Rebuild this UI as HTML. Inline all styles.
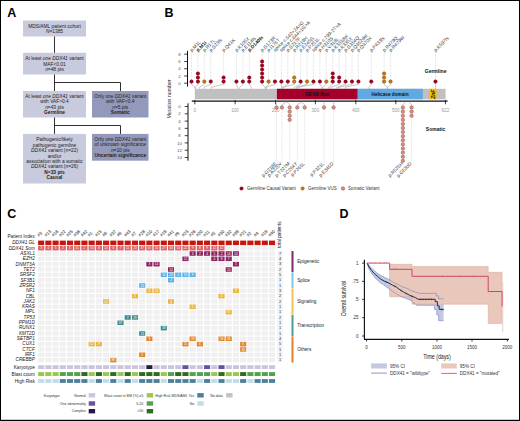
<!DOCTYPE html>
<html><head><meta charset="utf-8"><style>
html,body{margin:0;padding:0;background:#fff;}
svg{display:block;font-family:"Liberation Sans",sans-serif;}
</style></head><body>
<svg width="520" height="421" viewBox="0 0 520 421">
<rect x="0" y="0" width="520" height="421" fill="#fff"/>
<rect x="23" y="20.5" width="63" height="16" fill="#c8cade"/>
<rect x="23" y="52.8" width="63" height="21.7" fill="#c8cade"/>
<rect x="23" y="91" width="63" height="26.5" fill="#c8cade"/>
<rect x="92" y="91" width="56.5" height="26.5" fill="#9399bb"/>
<rect x="23" y="133.9" width="63" height="49.6" fill="#c8cade"/>
<rect x="92" y="133.9" width="56.5" height="26.8" fill="#9399bb"/>
<path d="M54.5 36.5V52.8M54.5 74.5V91M54.5 82.5H120.5V91M54.5 117.5V133.9M54.5 125.5H120.5V133.9" stroke="#1a1a1a" stroke-width="0.9" fill="none"/>
<g fill="#222">
<text x="54.5" y="27.50" font-size="4.85" text-anchor="middle">MDS/AML patient cohort</text>
<text x="54.5" y="32.60" font-size="4.85" text-anchor="middle">N=1385</text>
<text x="54.5" y="60.10" font-size="4.85" text-anchor="middle">At least one <tspan font-style="italic">DDX41</tspan> variant</text>
<text x="54.5" y="65.60" font-size="4.85" text-anchor="middle">MAF&lt;0.01</text>
<text x="54.5" y="70.90" font-size="4.85" text-anchor="middle"><tspan font-style="italic">n</tspan>=48 pts</text>
<text x="54.5" y="97.50" font-size="4.85" text-anchor="middle">At least one <tspan font-style="italic">DDX41</tspan> variant</text>
<text x="54.5" y="103.10" font-size="4.85" text-anchor="middle">with VAF&gt;0.4</text>
<text x="54.5" y="108.70" font-size="4.85" text-anchor="middle"><tspan font-style="italic">n</tspan>=43 pts</text>
<text x="54.5" y="114.10" font-size="4.85" text-anchor="middle" font-weight="bold">Germline</text>
<text x="120.25" y="97.50" font-size="4.85" text-anchor="middle">Only one <tspan font-style="italic">DDX41</tspan> variant</text>
<text x="120.25" y="103.10" font-size="4.85" text-anchor="middle">with VAF&lt;0.4</text>
<text x="120.25" y="108.70" font-size="4.85" text-anchor="middle"><tspan font-style="italic">n</tspan>=5 pts</text>
<text x="120.25" y="114.00" font-size="4.85" text-anchor="middle" font-weight="bold">Somatic</text>
<text x="54.5" y="141.30" font-size="4.85" text-anchor="middle">Pathogenic/likely</text>
<text x="54.5" y="146.70" font-size="4.85" text-anchor="middle">pathogenic germline</text>
<text x="54.5" y="152.10" font-size="4.85" text-anchor="middle"><tspan font-style="italic">DDX41</tspan> variant (n=22)</text>
<text x="54.5" y="157.50" font-size="4.85" text-anchor="middle">and/or</text>
<text x="54.5" y="162.90" font-size="4.85" text-anchor="middle">association with a somatic</text>
<text x="54.5" y="168.30" font-size="4.85" text-anchor="middle"><tspan font-style="italic">DDX41</tspan> variant (n=26)</text>
<text x="54.5" y="173.90" font-size="4.85" text-anchor="middle" font-weight="bold">N=33 pts</text>
<text x="54.5" y="179.30" font-size="4.85" text-anchor="middle" font-weight="bold">Causal</text>
<text x="120.25" y="141.00" font-size="4.85" text-anchor="middle">Only one <tspan font-style="italic">DDX41</tspan> variant</text>
<text x="120.25" y="146.40" font-size="4.85" text-anchor="middle">of unknown significance</text>
<text x="120.25" y="151.70" font-size="4.85" text-anchor="middle"><tspan font-style="italic">n</tspan>=10 pts</text>
<text x="120.25" y="157.00" font-size="4.85" text-anchor="middle" font-weight="bold">Uncertain significance</text>
</g>
<rect x="194.8" y="88.8" width="250.8" height="10.5" fill="#c0c0c0"/>
<rect x="276.9" y="88.8" width="80.8" height="10.5" fill="#a5002b"/>
<rect x="357.7" y="88.8" width="65.1" height="10.5" fill="#61a9e1"/>
<rect x="429.1" y="88.8" width="7.5" height="10.5" fill="#f3c300"/>
<text x="317.3" y="96.0" font-size="4.8" font-weight="bold" text-anchor="middle" fill="#111">DEAD Box</text>
<text x="390" y="96.0" font-size="4.7" font-weight="bold" text-anchor="middle" fill="#111">Helicase domain</text>
<text transform="translate(434.6 94.2) rotate(-90)" font-size="5" font-weight="bold" font-style="italic" text-anchor="middle" fill="#111">ZnF</text>
<path d="M191.8 101.1H447.6" stroke="#111" stroke-width="1.1"/>
<path d="M194.8 99.9V104.3M235.1 99.9V104.3M275.5 99.9V104.3M315.4 99.9V104.3M355.8 99.9V104.3M395.8 99.9V104.3M445.4 99.9V104.3" stroke="#111" stroke-width="0.8"/>
<g font-size="4.6" fill="#999" text-anchor="middle">
<text x="194.8" y="111.8">0</text>
<text x="235.1" y="111.8">100</text>
<text x="275.5" y="111.8">200</text>
<text x="315.4" y="111.8">300</text>
<text x="355.8" y="111.8">400</text>
<text x="395.8" y="111.8">500</text>
<text x="445.4" y="111.8">622</text>
</g>
<path d="M187.5 50.8V86.5" stroke="#111" stroke-width="1"/>
<path d="M184.2 83.2H187.5M184.2 76.0H187.5M184.2 68.7H187.5M184.2 61.5H187.5M184.2 54.2H187.5" stroke="#111" stroke-width="0.8"/>
<g font-size="4.4" fill="#555" text-anchor="middle">
<text x="179.4" y="84.75">0</text>
<text x="179.4" y="77.55">2</text>
<text x="179.4" y="70.25">4</text>
<text x="179.4" y="63.05">6</text>
<text x="179.4" y="55.75">8</text>
</g>
<path d="M188 103.3V160.7" stroke="#111" stroke-width="1"/>
<path d="M184.7 106.50H188M184.7 113.79H188M184.7 121.08H188M184.7 128.37H188M184.7 135.66H188M184.7 142.95H188M184.7 150.24H188M184.7 157.53H188" stroke="#111" stroke-width="0.8"/>
<g font-size="4.4" fill="#555" text-anchor="middle">
<text x="179.4" y="108.05">0</text>
<text x="179.4" y="115.34">2</text>
<text x="179.4" y="122.63">4</text>
<text x="179.4" y="129.92">6</text>
<text x="179.4" y="137.21">8</text>
<text x="179.4" y="144.50">10</text>
<text x="179.4" y="151.79">12</text>
<text x="179.4" y="159.08">14</text>
</g>
<text transform="translate(170.7 99) rotate(-90) scale(0.87 1)" font-size="6" fill="#2a2a2a" text-anchor="middle">Mutation number</text>
<path d="M191.50 51V79.80M197.92 51V71.74M204.34 51V79.80M210.76 51V79.80M223.60 51V75.77M236.44 51V79.80M242.86 51V79.80M249.28 51V75.77M262.12 51V59.65M268.54 51V79.80M274.96 51V79.80M281.38 51V79.80M287.80 51V79.80M294.22 51V75.77M300.64 51V79.80M307.06 51V79.80M313.48 51V79.80M319.90 51V79.80M326.32 51V79.80M332.74 51V71.74M339.16 51V75.77M345.58 51V79.80M352.00 51V79.80M358.42 51V79.80M371.26 51V79.80M384.10 51V71.74M390.52 51V79.80M435.46 51V79.80" stroke="#b5b5b5" stroke-width="0.45" stroke-dasharray="0.7 0.7" fill="none"/>
<path d="M191.50 83.3V84.3L195.20 87.4V88.8M197.92 83.3V84.3L195.20 87.4V88.8M204.34 83.3V84.3L199.40 87.4V88.8M210.76 83.3V84.3L204.00 87.4V88.8M223.60 83.3V84.3L211.00 87.4V88.8M236.44 83.3V84.3L237.70 87.4V88.8M242.86 83.3V84.3L239.70 87.4V88.8M249.28 83.3V84.3L251.20 87.4V88.8M262.12 83.3V84.3L265.30 87.4V88.8M268.54 83.3V84.3L265.60 87.4V88.8M274.96 83.3V84.3L266.10 87.4V88.8M281.38 83.3V84.3L281.50 87.4V88.8M287.80 83.3V84.3L282.20 87.4V88.8M294.22 83.3V84.3L283.30 87.4V88.8M300.64 83.3V84.3L294.00 87.4V88.8M307.06 83.3V84.3L296.50 87.4V88.8M313.48 83.3V84.3L298.00 87.4V88.8M319.90 83.3V84.3L322.10 87.4V88.8M326.32 83.3V84.3L322.60 87.4V88.8M332.74 83.3V84.3L328.50 87.4V88.8M339.16 83.3V84.3L330.50 87.4V88.8M345.58 83.3V84.3L336.50 87.4V88.8M352.00 83.3V84.3L338.50 87.4V88.8M358.42 83.3V84.3L345.00 87.4V88.8M371.26 83.3V84.3L369.00 87.4V88.8M384.10 83.3V84.3L387.30 87.4V88.8M390.52 83.3V84.3L387.30 87.4V88.8M435.46 83.3V84.3L435.50 87.4V88.8" stroke="#8f8f8f" stroke-width="0.5" fill="none"/>
<g font-size="4.85" fill="#404040"><text transform="translate(191.70 52.0) rotate(-45)">p.M1L</text><text transform="translate(198.12 52.0) rotate(-45)" font-weight="bold" fill="#111">p.M1I</text><text transform="translate(204.54 52.0) rotate(-45)">p.R17L</text><text transform="translate(210.96 52.0) rotate(-45)">p.S23fs</text><text transform="translate(223.80 52.0) rotate(-45)">p.Q41K</text><text transform="translate(236.64 52.0) rotate(-45)">p.K106X</text><text transform="translate(243.06 52.0) rotate(-45)">p.E114fs</text><text transform="translate(249.48 52.0) rotate(-45)" font-weight="bold" fill="#111">p.D140fs</text><text transform="translate(262.32 52.0) rotate(-45)">p.G173R</text><text transform="translate(268.74 52.0) rotate(-45)">p.I176T</text><text transform="translate(275.16 52.0) rotate(-45)">splice c.542+2A&gt;G</text><text transform="translate(281.58 52.0) rotate(-45)">splice c.644+1G&gt;A</text><text transform="translate(288.00 52.0) rotate(-45)">p.S217F</text><text transform="translate(294.42 52.0) rotate(-45)">p.R219H</text><text transform="translate(300.84 52.0) rotate(-45)">p.E245G</text><text transform="translate(307.26 52.0) rotate(-45)">p.P251L</text><text transform="translate(313.68 52.0) rotate(-45)">splice c.799-2T&gt;A</text><text transform="translate(320.10 52.0) rotate(-45)">p.H310S</text><text transform="translate(326.52 52.0) rotate(-45)">p.V318L</text><text transform="translate(332.94 52.0) rotate(-45)">p.K331del</text><text transform="translate(339.36 52.0) rotate(-45)">p.K335X</text><text transform="translate(345.78 52.0) rotate(-45)">p.G354Q</text><text transform="translate(352.20 52.0) rotate(-45)">p.Q352del</text><text transform="translate(358.62 52.0) rotate(-45)">p.Q370X</text><text transform="translate(371.46 52.0) rotate(-45)">p.P433fs</text><text transform="translate(384.30 52.0) rotate(-45)">p.R479Q</text><text transform="translate(390.72 52.0) rotate(-45)">p.R479W</text><text transform="translate(435.66 52.0) rotate(-45)">p.K597fs</text></g>
<circle cx="191.50" cy="81.60" r="1.75" fill="#aa001f" stroke="#5e0012" stroke-width="0.45"/><circle cx="197.92" cy="81.60" r="1.75" fill="#aa001f" stroke="#5e0012" stroke-width="0.45"/><circle cx="197.92" cy="77.57" r="1.75" fill="#aa001f" stroke="#5e0012" stroke-width="0.45"/><circle cx="197.92" cy="73.54" r="1.75" fill="#aa001f" stroke="#5e0012" stroke-width="0.45"/><circle cx="204.34" cy="81.60" r="1.75" fill="#c47a14" stroke="#74470a" stroke-width="0.45"/><circle cx="210.76" cy="81.60" r="1.75" fill="#aa001f" stroke="#5e0012" stroke-width="0.45"/><circle cx="223.60" cy="81.60" r="1.75" fill="#aa001f" stroke="#5e0012" stroke-width="0.45"/><circle cx="223.60" cy="77.57" r="1.75" fill="#aa001f" stroke="#5e0012" stroke-width="0.45"/><circle cx="236.44" cy="81.60" r="1.75" fill="#aa001f" stroke="#5e0012" stroke-width="0.45"/><circle cx="242.86" cy="81.60" r="1.75" fill="#aa001f" stroke="#5e0012" stroke-width="0.45"/><circle cx="249.28" cy="81.60" r="1.75" fill="#aa001f" stroke="#5e0012" stroke-width="0.45"/><circle cx="249.28" cy="77.57" r="1.75" fill="#aa001f" stroke="#5e0012" stroke-width="0.45"/><circle cx="262.12" cy="81.60" r="1.75" fill="#aa001f" stroke="#5e0012" stroke-width="0.45"/><circle cx="262.12" cy="77.57" r="1.75" fill="#aa001f" stroke="#5e0012" stroke-width="0.45"/><circle cx="262.12" cy="73.54" r="1.75" fill="#aa001f" stroke="#5e0012" stroke-width="0.45"/><circle cx="262.12" cy="69.51" r="1.75" fill="#aa001f" stroke="#5e0012" stroke-width="0.45"/><circle cx="262.12" cy="65.48" r="1.75" fill="#aa001f" stroke="#5e0012" stroke-width="0.45"/><circle cx="262.12" cy="61.45" r="1.75" fill="#aa001f" stroke="#5e0012" stroke-width="0.45"/><circle cx="268.54" cy="81.60" r="1.75" fill="#c47a14" stroke="#74470a" stroke-width="0.45"/><circle cx="274.96" cy="81.60" r="1.75" fill="#aa001f" stroke="#5e0012" stroke-width="0.45"/><circle cx="281.38" cy="81.60" r="1.75" fill="#aa001f" stroke="#5e0012" stroke-width="0.45"/><circle cx="287.80" cy="81.60" r="1.75" fill="#aa001f" stroke="#5e0012" stroke-width="0.45"/><circle cx="294.22" cy="81.60" r="1.75" fill="#c47a14" stroke="#74470a" stroke-width="0.45"/><circle cx="294.22" cy="77.57" r="1.75" fill="#c47a14" stroke="#74470a" stroke-width="0.45"/><circle cx="300.64" cy="81.60" r="1.75" fill="#aa001f" stroke="#5e0012" stroke-width="0.45"/><circle cx="307.06" cy="81.60" r="1.75" fill="#c47a14" stroke="#74470a" stroke-width="0.45"/><circle cx="313.48" cy="81.60" r="1.75" fill="#aa001f" stroke="#5e0012" stroke-width="0.45"/><circle cx="319.90" cy="81.60" r="1.75" fill="#aa001f" stroke="#5e0012" stroke-width="0.45"/><circle cx="326.32" cy="81.60" r="1.75" fill="#c47a14" stroke="#74470a" stroke-width="0.45"/><circle cx="332.74" cy="81.60" r="1.75" fill="#aa001f" stroke="#5e0012" stroke-width="0.45"/><circle cx="332.74" cy="77.57" r="1.75" fill="#aa001f" stroke="#5e0012" stroke-width="0.45"/><circle cx="332.74" cy="73.54" r="1.75" fill="#aa001f" stroke="#5e0012" stroke-width="0.45"/><circle cx="339.16" cy="81.60" r="1.75" fill="#aa001f" stroke="#5e0012" stroke-width="0.45"/><circle cx="339.16" cy="77.57" r="1.75" fill="#aa001f" stroke="#5e0012" stroke-width="0.45"/><circle cx="345.58" cy="81.60" r="1.75" fill="#aa001f" stroke="#5e0012" stroke-width="0.45"/><circle cx="352.00" cy="81.60" r="1.75" fill="#aa001f" stroke="#5e0012" stroke-width="0.45"/><circle cx="358.42" cy="81.60" r="1.75" fill="#aa001f" stroke="#5e0012" stroke-width="0.45"/><circle cx="371.26" cy="81.60" r="1.75" fill="#aa001f" stroke="#5e0012" stroke-width="0.45"/><circle cx="384.10" cy="81.60" r="1.75" fill="#c47a14" stroke="#74470a" stroke-width="0.45"/><circle cx="384.10" cy="77.57" r="1.75" fill="#c47a14" stroke="#74470a" stroke-width="0.45"/><circle cx="384.10" cy="73.54" r="1.75" fill="#c47a14" stroke="#74470a" stroke-width="0.45"/><circle cx="390.52" cy="81.60" r="1.75" fill="#c47a14" stroke="#74470a" stroke-width="0.45"/><circle cx="435.46" cy="81.60" r="1.75" fill="#aa001f" stroke="#5e0012" stroke-width="0.45"/>
<path d="M276.50 109.30V162.5M281.90 109.30V162.5M289.70 121.60V162.5M297.30 109.30V162.5M304.70 109.30V162.5M324.00 109.30V162.5M333.60 109.30V162.5M402.90 162.60V162.5M411.60 117.50V162.5" stroke="#b5b5b5" stroke-width="0.45" stroke-dasharray="0.7 0.7" fill="none"/>
<path d="M276.50 105.8V104.8L275.80 102.6V101.6M281.90 105.8V104.8L285.40 102.6V101.6M289.70 105.8V104.8L287.30 102.6V101.6M297.30 105.8V104.8L300.80 102.6V101.6M304.70 105.8V104.8L302.00 102.6V101.6M324.00 105.8V104.8L324.00 102.6V101.6M333.60 105.8V104.8L333.60 102.6V101.6M402.90 105.8V104.8L404.80 102.6V101.6M411.60 105.8V104.8L409.30 102.6V101.6" stroke="#8f8f8f" stroke-width="0.5" fill="none"/>
<g font-size="4.85" fill="#404040" text-anchor="end"><text transform="translate(277.00 164.0) rotate(-45)">p.G218E</text><text transform="translate(282.40 164.0) rotate(-45)">p.A225V</text><text transform="translate(290.20 164.0) rotate(-45)">p.T227M</text><text transform="translate(297.80 164.0) rotate(-45)">p.C264Y</text><text transform="translate(305.20 164.0) rotate(-45)">p.P265L</text><text transform="translate(324.50 164.0) rotate(-45)">p.P321L</text><text transform="translate(334.10 164.0) rotate(-45)">p.E345D</text><text transform="translate(403.40 164.0) rotate(-45)">p.R525H</text><text transform="translate(412.10 164.0) rotate(-45)">p.G530D</text></g>
<circle cx="276.50" cy="107.50" r="1.75" fill="#e38a79" stroke="#7f5a52" stroke-width="0.5"/><circle cx="281.90" cy="107.50" r="1.75" fill="#e38a79" stroke="#7f5a52" stroke-width="0.5"/><circle cx="289.70" cy="107.50" r="1.75" fill="#e38a79" stroke="#7f5a52" stroke-width="0.5"/><circle cx="289.70" cy="111.60" r="1.75" fill="#e38a79" stroke="#7f5a52" stroke-width="0.5"/><circle cx="289.70" cy="115.70" r="1.75" fill="#e38a79" stroke="#7f5a52" stroke-width="0.5"/><circle cx="289.70" cy="119.80" r="1.75" fill="#e38a79" stroke="#7f5a52" stroke-width="0.5"/><circle cx="297.30" cy="107.50" r="1.75" fill="#e38a79" stroke="#7f5a52" stroke-width="0.5"/><circle cx="304.70" cy="107.50" r="1.75" fill="#e38a79" stroke="#7f5a52" stroke-width="0.5"/><circle cx="324.00" cy="107.50" r="1.75" fill="#e38a79" stroke="#7f5a52" stroke-width="0.5"/><circle cx="333.60" cy="107.50" r="1.75" fill="#e38a79" stroke="#7f5a52" stroke-width="0.5"/><circle cx="402.90" cy="107.50" r="1.75" fill="#e38a79" stroke="#7f5a52" stroke-width="0.5"/><circle cx="402.90" cy="111.60" r="1.75" fill="#e38a79" stroke="#7f5a52" stroke-width="0.5"/><circle cx="402.90" cy="115.70" r="1.75" fill="#e38a79" stroke="#7f5a52" stroke-width="0.5"/><circle cx="402.90" cy="119.80" r="1.75" fill="#e38a79" stroke="#7f5a52" stroke-width="0.5"/><circle cx="402.90" cy="123.90" r="1.75" fill="#e38a79" stroke="#7f5a52" stroke-width="0.5"/><circle cx="402.90" cy="128.00" r="1.75" fill="#e38a79" stroke="#7f5a52" stroke-width="0.5"/><circle cx="402.90" cy="132.10" r="1.75" fill="#e38a79" stroke="#7f5a52" stroke-width="0.5"/><circle cx="402.90" cy="136.20" r="1.75" fill="#e38a79" stroke="#7f5a52" stroke-width="0.5"/><circle cx="402.90" cy="140.30" r="1.75" fill="#e38a79" stroke="#7f5a52" stroke-width="0.5"/><circle cx="402.90" cy="144.40" r="1.75" fill="#e38a79" stroke="#7f5a52" stroke-width="0.5"/><circle cx="402.90" cy="148.50" r="1.75" fill="#e38a79" stroke="#7f5a52" stroke-width="0.5"/><circle cx="402.90" cy="152.60" r="1.75" fill="#e38a79" stroke="#7f5a52" stroke-width="0.5"/><circle cx="402.90" cy="156.70" r="1.75" fill="#e38a79" stroke="#7f5a52" stroke-width="0.5"/><circle cx="402.90" cy="160.80" r="1.75" fill="#e38a79" stroke="#7f5a52" stroke-width="0.5"/><circle cx="411.60" cy="107.50" r="1.75" fill="#e38a79" stroke="#7f5a52" stroke-width="0.5"/><circle cx="411.60" cy="111.60" r="1.75" fill="#e38a79" stroke="#7f5a52" stroke-width="0.5"/><circle cx="411.60" cy="115.70" r="1.75" fill="#e38a79" stroke="#7f5a52" stroke-width="0.5"/>
<text x="435.6" y="72.6" font-size="5" font-weight="bold" text-anchor="middle" fill="#111">Germline</text>
<text x="435.6" y="130.7" font-size="5" font-weight="bold" text-anchor="middle" fill="#111">Somatic</text>
<circle cx="241.5" cy="188.5" r="1.75" fill="#aa001f" stroke="#5e0012" stroke-width="0.35"/>
<circle cx="302.6" cy="188.5" r="1.75" fill="#c47a14" stroke="#74470a" stroke-width="0.35"/>
<circle cx="343" cy="188.5" r="1.75" fill="#e38a79" stroke="#7f5a52" stroke-width="0.5"/>
<g font-size="4.5" fill="#333">
<text x="247" y="190.1">Germline Causal Variant</text>
<text x="308" y="190.1">Germline VUS</text>
<text x="348" y="190.1">Somatic Variant</text>
</g><g fill="#f0f0f0"><rect x="38.10" y="251.26" width="6.1" height="4.5"/><rect x="45.31" y="251.26" width="6.1" height="4.5"/><rect x="52.53" y="251.26" width="6.1" height="4.5"/><rect x="59.75" y="251.26" width="6.1" height="4.5"/><rect x="66.96" y="251.26" width="6.1" height="4.5"/><rect x="74.18" y="251.26" width="6.1" height="4.5"/><rect x="81.39" y="251.26" width="6.1" height="4.5"/><rect x="88.60" y="251.26" width="6.1" height="4.5"/><rect x="95.82" y="251.26" width="6.1" height="4.5"/><rect x="103.03" y="251.26" width="6.1" height="4.5"/><rect x="110.25" y="251.26" width="6.1" height="4.5"/><rect x="117.47" y="251.26" width="6.1" height="4.5"/><rect x="124.68" y="251.26" width="6.1" height="4.5"/><rect x="131.90" y="251.26" width="6.1" height="4.5"/><rect x="139.11" y="251.26" width="6.1" height="4.5"/><rect x="146.32" y="251.26" width="6.1" height="4.5"/><rect x="153.54" y="251.26" width="6.1" height="4.5"/><rect x="160.75" y="251.26" width="6.1" height="4.5"/><rect x="167.97" y="251.26" width="6.1" height="4.5"/><rect x="175.19" y="251.26" width="6.1" height="4.5"/><rect x="182.40" y="251.26" width="6.1" height="4.5"/><rect x="189.61" y="251.26" width="6.1" height="4.5"/><rect x="196.83" y="251.26" width="6.1" height="4.5"/><rect x="204.04" y="251.26" width="6.1" height="4.5"/><rect x="211.26" y="251.26" width="6.1" height="4.5"/><rect x="218.47" y="251.26" width="6.1" height="4.5"/><rect x="225.69" y="251.26" width="6.1" height="4.5"/><rect x="232.91" y="251.26" width="6.1" height="4.5"/><rect x="240.12" y="251.26" width="6.1" height="4.5"/><rect x="247.33" y="251.26" width="6.1" height="4.5"/><rect x="254.55" y="251.26" width="6.1" height="4.5"/><rect x="261.76" y="251.26" width="6.1" height="4.5"/><rect x="268.98" y="251.26" width="6.1" height="4.5"/><rect x="38.10" y="256.59" width="6.1" height="4.5"/><rect x="45.31" y="256.59" width="6.1" height="4.5"/><rect x="52.53" y="256.59" width="6.1" height="4.5"/><rect x="59.75" y="256.59" width="6.1" height="4.5"/><rect x="66.96" y="256.59" width="6.1" height="4.5"/><rect x="74.18" y="256.59" width="6.1" height="4.5"/><rect x="81.39" y="256.59" width="6.1" height="4.5"/><rect x="88.60" y="256.59" width="6.1" height="4.5"/><rect x="95.82" y="256.59" width="6.1" height="4.5"/><rect x="103.03" y="256.59" width="6.1" height="4.5"/><rect x="110.25" y="256.59" width="6.1" height="4.5"/><rect x="117.47" y="256.59" width="6.1" height="4.5"/><rect x="124.68" y="256.59" width="6.1" height="4.5"/><rect x="131.90" y="256.59" width="6.1" height="4.5"/><rect x="139.11" y="256.59" width="6.1" height="4.5"/><rect x="146.32" y="256.59" width="6.1" height="4.5"/><rect x="153.54" y="256.59" width="6.1" height="4.5"/><rect x="160.75" y="256.59" width="6.1" height="4.5"/><rect x="167.97" y="256.59" width="6.1" height="4.5"/><rect x="175.19" y="256.59" width="6.1" height="4.5"/><rect x="182.40" y="256.59" width="6.1" height="4.5"/><rect x="189.61" y="256.59" width="6.1" height="4.5"/><rect x="196.83" y="256.59" width="6.1" height="4.5"/><rect x="204.04" y="256.59" width="6.1" height="4.5"/><rect x="211.26" y="256.59" width="6.1" height="4.5"/><rect x="218.47" y="256.59" width="6.1" height="4.5"/><rect x="225.69" y="256.59" width="6.1" height="4.5"/><rect x="232.91" y="256.59" width="6.1" height="4.5"/><rect x="240.12" y="256.59" width="6.1" height="4.5"/><rect x="247.33" y="256.59" width="6.1" height="4.5"/><rect x="254.55" y="256.59" width="6.1" height="4.5"/><rect x="261.76" y="256.59" width="6.1" height="4.5"/><rect x="268.98" y="256.59" width="6.1" height="4.5"/><rect x="38.10" y="261.92" width="6.1" height="4.5"/><rect x="45.31" y="261.92" width="6.1" height="4.5"/><rect x="52.53" y="261.92" width="6.1" height="4.5"/><rect x="59.75" y="261.92" width="6.1" height="4.5"/><rect x="66.96" y="261.92" width="6.1" height="4.5"/><rect x="74.18" y="261.92" width="6.1" height="4.5"/><rect x="81.39" y="261.92" width="6.1" height="4.5"/><rect x="88.60" y="261.92" width="6.1" height="4.5"/><rect x="95.82" y="261.92" width="6.1" height="4.5"/><rect x="103.03" y="261.92" width="6.1" height="4.5"/><rect x="110.25" y="261.92" width="6.1" height="4.5"/><rect x="117.47" y="261.92" width="6.1" height="4.5"/><rect x="124.68" y="261.92" width="6.1" height="4.5"/><rect x="131.90" y="261.92" width="6.1" height="4.5"/><rect x="139.11" y="261.92" width="6.1" height="4.5"/><rect x="146.32" y="261.92" width="6.1" height="4.5"/><rect x="153.54" y="261.92" width="6.1" height="4.5"/><rect x="160.75" y="261.92" width="6.1" height="4.5"/><rect x="167.97" y="261.92" width="6.1" height="4.5"/><rect x="175.19" y="261.92" width="6.1" height="4.5"/><rect x="182.40" y="261.92" width="6.1" height="4.5"/><rect x="189.61" y="261.92" width="6.1" height="4.5"/><rect x="196.83" y="261.92" width="6.1" height="4.5"/><rect x="204.04" y="261.92" width="6.1" height="4.5"/><rect x="211.26" y="261.92" width="6.1" height="4.5"/><rect x="218.47" y="261.92" width="6.1" height="4.5"/><rect x="225.69" y="261.92" width="6.1" height="4.5"/><rect x="232.91" y="261.92" width="6.1" height="4.5"/><rect x="240.12" y="261.92" width="6.1" height="4.5"/><rect x="247.33" y="261.92" width="6.1" height="4.5"/><rect x="254.55" y="261.92" width="6.1" height="4.5"/><rect x="261.76" y="261.92" width="6.1" height="4.5"/><rect x="268.98" y="261.92" width="6.1" height="4.5"/><rect x="38.10" y="267.25" width="6.1" height="4.5"/><rect x="45.31" y="267.25" width="6.1" height="4.5"/><rect x="52.53" y="267.25" width="6.1" height="4.5"/><rect x="59.75" y="267.25" width="6.1" height="4.5"/><rect x="66.96" y="267.25" width="6.1" height="4.5"/><rect x="74.18" y="267.25" width="6.1" height="4.5"/><rect x="81.39" y="267.25" width="6.1" height="4.5"/><rect x="88.60" y="267.25" width="6.1" height="4.5"/><rect x="95.82" y="267.25" width="6.1" height="4.5"/><rect x="103.03" y="267.25" width="6.1" height="4.5"/><rect x="110.25" y="267.25" width="6.1" height="4.5"/><rect x="117.47" y="267.25" width="6.1" height="4.5"/><rect x="124.68" y="267.25" width="6.1" height="4.5"/><rect x="131.90" y="267.25" width="6.1" height="4.5"/><rect x="139.11" y="267.25" width="6.1" height="4.5"/><rect x="146.32" y="267.25" width="6.1" height="4.5"/><rect x="153.54" y="267.25" width="6.1" height="4.5"/><rect x="160.75" y="267.25" width="6.1" height="4.5"/><rect x="167.97" y="267.25" width="6.1" height="4.5"/><rect x="175.19" y="267.25" width="6.1" height="4.5"/><rect x="182.40" y="267.25" width="6.1" height="4.5"/><rect x="189.61" y="267.25" width="6.1" height="4.5"/><rect x="196.83" y="267.25" width="6.1" height="4.5"/><rect x="204.04" y="267.25" width="6.1" height="4.5"/><rect x="211.26" y="267.25" width="6.1" height="4.5"/><rect x="218.47" y="267.25" width="6.1" height="4.5"/><rect x="225.69" y="267.25" width="6.1" height="4.5"/><rect x="232.91" y="267.25" width="6.1" height="4.5"/><rect x="240.12" y="267.25" width="6.1" height="4.5"/><rect x="247.33" y="267.25" width="6.1" height="4.5"/><rect x="254.55" y="267.25" width="6.1" height="4.5"/><rect x="261.76" y="267.25" width="6.1" height="4.5"/><rect x="268.98" y="267.25" width="6.1" height="4.5"/><rect x="38.10" y="272.58" width="6.1" height="4.5"/><rect x="45.31" y="272.58" width="6.1" height="4.5"/><rect x="52.53" y="272.58" width="6.1" height="4.5"/><rect x="59.75" y="272.58" width="6.1" height="4.5"/><rect x="66.96" y="272.58" width="6.1" height="4.5"/><rect x="74.18" y="272.58" width="6.1" height="4.5"/><rect x="81.39" y="272.58" width="6.1" height="4.5"/><rect x="88.60" y="272.58" width="6.1" height="4.5"/><rect x="95.82" y="272.58" width="6.1" height="4.5"/><rect x="103.03" y="272.58" width="6.1" height="4.5"/><rect x="110.25" y="272.58" width="6.1" height="4.5"/><rect x="117.47" y="272.58" width="6.1" height="4.5"/><rect x="124.68" y="272.58" width="6.1" height="4.5"/><rect x="131.90" y="272.58" width="6.1" height="4.5"/><rect x="139.11" y="272.58" width="6.1" height="4.5"/><rect x="146.32" y="272.58" width="6.1" height="4.5"/><rect x="153.54" y="272.58" width="6.1" height="4.5"/><rect x="160.75" y="272.58" width="6.1" height="4.5"/><rect x="167.97" y="272.58" width="6.1" height="4.5"/><rect x="175.19" y="272.58" width="6.1" height="4.5"/><rect x="182.40" y="272.58" width="6.1" height="4.5"/><rect x="189.61" y="272.58" width="6.1" height="4.5"/><rect x="196.83" y="272.58" width="6.1" height="4.5"/><rect x="204.04" y="272.58" width="6.1" height="4.5"/><rect x="211.26" y="272.58" width="6.1" height="4.5"/><rect x="218.47" y="272.58" width="6.1" height="4.5"/><rect x="225.69" y="272.58" width="6.1" height="4.5"/><rect x="232.91" y="272.58" width="6.1" height="4.5"/><rect x="240.12" y="272.58" width="6.1" height="4.5"/><rect x="247.33" y="272.58" width="6.1" height="4.5"/><rect x="254.55" y="272.58" width="6.1" height="4.5"/><rect x="261.76" y="272.58" width="6.1" height="4.5"/><rect x="268.98" y="272.58" width="6.1" height="4.5"/><rect x="38.10" y="277.91" width="6.1" height="4.5"/><rect x="45.31" y="277.91" width="6.1" height="4.5"/><rect x="52.53" y="277.91" width="6.1" height="4.5"/><rect x="59.75" y="277.91" width="6.1" height="4.5"/><rect x="66.96" y="277.91" width="6.1" height="4.5"/><rect x="74.18" y="277.91" width="6.1" height="4.5"/><rect x="81.39" y="277.91" width="6.1" height="4.5"/><rect x="88.60" y="277.91" width="6.1" height="4.5"/><rect x="95.82" y="277.91" width="6.1" height="4.5"/><rect x="103.03" y="277.91" width="6.1" height="4.5"/><rect x="110.25" y="277.91" width="6.1" height="4.5"/><rect x="117.47" y="277.91" width="6.1" height="4.5"/><rect x="124.68" y="277.91" width="6.1" height="4.5"/><rect x="131.90" y="277.91" width="6.1" height="4.5"/><rect x="139.11" y="277.91" width="6.1" height="4.5"/><rect x="146.32" y="277.91" width="6.1" height="4.5"/><rect x="153.54" y="277.91" width="6.1" height="4.5"/><rect x="160.75" y="277.91" width="6.1" height="4.5"/><rect x="167.97" y="277.91" width="6.1" height="4.5"/><rect x="175.19" y="277.91" width="6.1" height="4.5"/><rect x="182.40" y="277.91" width="6.1" height="4.5"/><rect x="189.61" y="277.91" width="6.1" height="4.5"/><rect x="196.83" y="277.91" width="6.1" height="4.5"/><rect x="204.04" y="277.91" width="6.1" height="4.5"/><rect x="211.26" y="277.91" width="6.1" height="4.5"/><rect x="218.47" y="277.91" width="6.1" height="4.5"/><rect x="225.69" y="277.91" width="6.1" height="4.5"/><rect x="232.91" y="277.91" width="6.1" height="4.5"/><rect x="240.12" y="277.91" width="6.1" height="4.5"/><rect x="247.33" y="277.91" width="6.1" height="4.5"/><rect x="254.55" y="277.91" width="6.1" height="4.5"/><rect x="261.76" y="277.91" width="6.1" height="4.5"/><rect x="268.98" y="277.91" width="6.1" height="4.5"/><rect x="38.10" y="283.24" width="6.1" height="4.5"/><rect x="45.31" y="283.24" width="6.1" height="4.5"/><rect x="52.53" y="283.24" width="6.1" height="4.5"/><rect x="59.75" y="283.24" width="6.1" height="4.5"/><rect x="66.96" y="283.24" width="6.1" height="4.5"/><rect x="74.18" y="283.24" width="6.1" height="4.5"/><rect x="81.39" y="283.24" width="6.1" height="4.5"/><rect x="88.60" y="283.24" width="6.1" height="4.5"/><rect x="95.82" y="283.24" width="6.1" height="4.5"/><rect x="103.03" y="283.24" width="6.1" height="4.5"/><rect x="110.25" y="283.24" width="6.1" height="4.5"/><rect x="117.47" y="283.24" width="6.1" height="4.5"/><rect x="124.68" y="283.24" width="6.1" height="4.5"/><rect x="131.90" y="283.24" width="6.1" height="4.5"/><rect x="139.11" y="283.24" width="6.1" height="4.5"/><rect x="146.32" y="283.24" width="6.1" height="4.5"/><rect x="153.54" y="283.24" width="6.1" height="4.5"/><rect x="160.75" y="283.24" width="6.1" height="4.5"/><rect x="167.97" y="283.24" width="6.1" height="4.5"/><rect x="175.19" y="283.24" width="6.1" height="4.5"/><rect x="182.40" y="283.24" width="6.1" height="4.5"/><rect x="189.61" y="283.24" width="6.1" height="4.5"/><rect x="196.83" y="283.24" width="6.1" height="4.5"/><rect x="204.04" y="283.24" width="6.1" height="4.5"/><rect x="211.26" y="283.24" width="6.1" height="4.5"/><rect x="218.47" y="283.24" width="6.1" height="4.5"/><rect x="225.69" y="283.24" width="6.1" height="4.5"/><rect x="232.91" y="283.24" width="6.1" height="4.5"/><rect x="240.12" y="283.24" width="6.1" height="4.5"/><rect x="247.33" y="283.24" width="6.1" height="4.5"/><rect x="254.55" y="283.24" width="6.1" height="4.5"/><rect x="261.76" y="283.24" width="6.1" height="4.5"/><rect x="268.98" y="283.24" width="6.1" height="4.5"/><rect x="38.10" y="288.57" width="6.1" height="4.5"/><rect x="45.31" y="288.57" width="6.1" height="4.5"/><rect x="52.53" y="288.57" width="6.1" height="4.5"/><rect x="59.75" y="288.57" width="6.1" height="4.5"/><rect x="66.96" y="288.57" width="6.1" height="4.5"/><rect x="74.18" y="288.57" width="6.1" height="4.5"/><rect x="81.39" y="288.57" width="6.1" height="4.5"/><rect x="88.60" y="288.57" width="6.1" height="4.5"/><rect x="95.82" y="288.57" width="6.1" height="4.5"/><rect x="103.03" y="288.57" width="6.1" height="4.5"/><rect x="110.25" y="288.57" width="6.1" height="4.5"/><rect x="117.47" y="288.57" width="6.1" height="4.5"/><rect x="124.68" y="288.57" width="6.1" height="4.5"/><rect x="131.90" y="288.57" width="6.1" height="4.5"/><rect x="139.11" y="288.57" width="6.1" height="4.5"/><rect x="146.32" y="288.57" width="6.1" height="4.5"/><rect x="153.54" y="288.57" width="6.1" height="4.5"/><rect x="160.75" y="288.57" width="6.1" height="4.5"/><rect x="167.97" y="288.57" width="6.1" height="4.5"/><rect x="175.19" y="288.57" width="6.1" height="4.5"/><rect x="182.40" y="288.57" width="6.1" height="4.5"/><rect x="189.61" y="288.57" width="6.1" height="4.5"/><rect x="196.83" y="288.57" width="6.1" height="4.5"/><rect x="204.04" y="288.57" width="6.1" height="4.5"/><rect x="211.26" y="288.57" width="6.1" height="4.5"/><rect x="218.47" y="288.57" width="6.1" height="4.5"/><rect x="225.69" y="288.57" width="6.1" height="4.5"/><rect x="232.91" y="288.57" width="6.1" height="4.5"/><rect x="240.12" y="288.57" width="6.1" height="4.5"/><rect x="247.33" y="288.57" width="6.1" height="4.5"/><rect x="254.55" y="288.57" width="6.1" height="4.5"/><rect x="261.76" y="288.57" width="6.1" height="4.5"/><rect x="268.98" y="288.57" width="6.1" height="4.5"/><rect x="38.10" y="293.90" width="6.1" height="4.5"/><rect x="45.31" y="293.90" width="6.1" height="4.5"/><rect x="52.53" y="293.90" width="6.1" height="4.5"/><rect x="59.75" y="293.90" width="6.1" height="4.5"/><rect x="66.96" y="293.90" width="6.1" height="4.5"/><rect x="74.18" y="293.90" width="6.1" height="4.5"/><rect x="81.39" y="293.90" width="6.1" height="4.5"/><rect x="88.60" y="293.90" width="6.1" height="4.5"/><rect x="95.82" y="293.90" width="6.1" height="4.5"/><rect x="103.03" y="293.90" width="6.1" height="4.5"/><rect x="110.25" y="293.90" width="6.1" height="4.5"/><rect x="117.47" y="293.90" width="6.1" height="4.5"/><rect x="124.68" y="293.90" width="6.1" height="4.5"/><rect x="131.90" y="293.90" width="6.1" height="4.5"/><rect x="139.11" y="293.90" width="6.1" height="4.5"/><rect x="146.32" y="293.90" width="6.1" height="4.5"/><rect x="153.54" y="293.90" width="6.1" height="4.5"/><rect x="160.75" y="293.90" width="6.1" height="4.5"/><rect x="167.97" y="293.90" width="6.1" height="4.5"/><rect x="175.19" y="293.90" width="6.1" height="4.5"/><rect x="182.40" y="293.90" width="6.1" height="4.5"/><rect x="189.61" y="293.90" width="6.1" height="4.5"/><rect x="196.83" y="293.90" width="6.1" height="4.5"/><rect x="204.04" y="293.90" width="6.1" height="4.5"/><rect x="211.26" y="293.90" width="6.1" height="4.5"/><rect x="218.47" y="293.90" width="6.1" height="4.5"/><rect x="225.69" y="293.90" width="6.1" height="4.5"/><rect x="232.91" y="293.90" width="6.1" height="4.5"/><rect x="240.12" y="293.90" width="6.1" height="4.5"/><rect x="247.33" y="293.90" width="6.1" height="4.5"/><rect x="254.55" y="293.90" width="6.1" height="4.5"/><rect x="261.76" y="293.90" width="6.1" height="4.5"/><rect x="268.98" y="293.90" width="6.1" height="4.5"/><rect x="38.10" y="299.23" width="6.1" height="4.5"/><rect x="45.31" y="299.23" width="6.1" height="4.5"/><rect x="52.53" y="299.23" width="6.1" height="4.5"/><rect x="59.75" y="299.23" width="6.1" height="4.5"/><rect x="66.96" y="299.23" width="6.1" height="4.5"/><rect x="74.18" y="299.23" width="6.1" height="4.5"/><rect x="81.39" y="299.23" width="6.1" height="4.5"/><rect x="88.60" y="299.23" width="6.1" height="4.5"/><rect x="95.82" y="299.23" width="6.1" height="4.5"/><rect x="103.03" y="299.23" width="6.1" height="4.5"/><rect x="110.25" y="299.23" width="6.1" height="4.5"/><rect x="117.47" y="299.23" width="6.1" height="4.5"/><rect x="124.68" y="299.23" width="6.1" height="4.5"/><rect x="131.90" y="299.23" width="6.1" height="4.5"/><rect x="139.11" y="299.23" width="6.1" height="4.5"/><rect x="146.32" y="299.23" width="6.1" height="4.5"/><rect x="153.54" y="299.23" width="6.1" height="4.5"/><rect x="160.75" y="299.23" width="6.1" height="4.5"/><rect x="167.97" y="299.23" width="6.1" height="4.5"/><rect x="175.19" y="299.23" width="6.1" height="4.5"/><rect x="182.40" y="299.23" width="6.1" height="4.5"/><rect x="189.61" y="299.23" width="6.1" height="4.5"/><rect x="196.83" y="299.23" width="6.1" height="4.5"/><rect x="204.04" y="299.23" width="6.1" height="4.5"/><rect x="211.26" y="299.23" width="6.1" height="4.5"/><rect x="218.47" y="299.23" width="6.1" height="4.5"/><rect x="225.69" y="299.23" width="6.1" height="4.5"/><rect x="232.91" y="299.23" width="6.1" height="4.5"/><rect x="240.12" y="299.23" width="6.1" height="4.5"/><rect x="247.33" y="299.23" width="6.1" height="4.5"/><rect x="254.55" y="299.23" width="6.1" height="4.5"/><rect x="261.76" y="299.23" width="6.1" height="4.5"/><rect x="268.98" y="299.23" width="6.1" height="4.5"/><rect x="38.10" y="304.56" width="6.1" height="4.5"/><rect x="45.31" y="304.56" width="6.1" height="4.5"/><rect x="52.53" y="304.56" width="6.1" height="4.5"/><rect x="59.75" y="304.56" width="6.1" height="4.5"/><rect x="66.96" y="304.56" width="6.1" height="4.5"/><rect x="74.18" y="304.56" width="6.1" height="4.5"/><rect x="81.39" y="304.56" width="6.1" height="4.5"/><rect x="88.60" y="304.56" width="6.1" height="4.5"/><rect x="95.82" y="304.56" width="6.1" height="4.5"/><rect x="103.03" y="304.56" width="6.1" height="4.5"/><rect x="110.25" y="304.56" width="6.1" height="4.5"/><rect x="117.47" y="304.56" width="6.1" height="4.5"/><rect x="124.68" y="304.56" width="6.1" height="4.5"/><rect x="131.90" y="304.56" width="6.1" height="4.5"/><rect x="139.11" y="304.56" width="6.1" height="4.5"/><rect x="146.32" y="304.56" width="6.1" height="4.5"/><rect x="153.54" y="304.56" width="6.1" height="4.5"/><rect x="160.75" y="304.56" width="6.1" height="4.5"/><rect x="167.97" y="304.56" width="6.1" height="4.5"/><rect x="175.19" y="304.56" width="6.1" height="4.5"/><rect x="182.40" y="304.56" width="6.1" height="4.5"/><rect x="189.61" y="304.56" width="6.1" height="4.5"/><rect x="196.83" y="304.56" width="6.1" height="4.5"/><rect x="204.04" y="304.56" width="6.1" height="4.5"/><rect x="211.26" y="304.56" width="6.1" height="4.5"/><rect x="218.47" y="304.56" width="6.1" height="4.5"/><rect x="225.69" y="304.56" width="6.1" height="4.5"/><rect x="232.91" y="304.56" width="6.1" height="4.5"/><rect x="240.12" y="304.56" width="6.1" height="4.5"/><rect x="247.33" y="304.56" width="6.1" height="4.5"/><rect x="254.55" y="304.56" width="6.1" height="4.5"/><rect x="261.76" y="304.56" width="6.1" height="4.5"/><rect x="268.98" y="304.56" width="6.1" height="4.5"/><rect x="38.10" y="309.89" width="6.1" height="4.5"/><rect x="45.31" y="309.89" width="6.1" height="4.5"/><rect x="52.53" y="309.89" width="6.1" height="4.5"/><rect x="59.75" y="309.89" width="6.1" height="4.5"/><rect x="66.96" y="309.89" width="6.1" height="4.5"/><rect x="74.18" y="309.89" width="6.1" height="4.5"/><rect x="81.39" y="309.89" width="6.1" height="4.5"/><rect x="88.60" y="309.89" width="6.1" height="4.5"/><rect x="95.82" y="309.89" width="6.1" height="4.5"/><rect x="103.03" y="309.89" width="6.1" height="4.5"/><rect x="110.25" y="309.89" width="6.1" height="4.5"/><rect x="117.47" y="309.89" width="6.1" height="4.5"/><rect x="124.68" y="309.89" width="6.1" height="4.5"/><rect x="131.90" y="309.89" width="6.1" height="4.5"/><rect x="139.11" y="309.89" width="6.1" height="4.5"/><rect x="146.32" y="309.89" width="6.1" height="4.5"/><rect x="153.54" y="309.89" width="6.1" height="4.5"/><rect x="160.75" y="309.89" width="6.1" height="4.5"/><rect x="167.97" y="309.89" width="6.1" height="4.5"/><rect x="175.19" y="309.89" width="6.1" height="4.5"/><rect x="182.40" y="309.89" width="6.1" height="4.5"/><rect x="189.61" y="309.89" width="6.1" height="4.5"/><rect x="196.83" y="309.89" width="6.1" height="4.5"/><rect x="204.04" y="309.89" width="6.1" height="4.5"/><rect x="211.26" y="309.89" width="6.1" height="4.5"/><rect x="218.47" y="309.89" width="6.1" height="4.5"/><rect x="225.69" y="309.89" width="6.1" height="4.5"/><rect x="232.91" y="309.89" width="6.1" height="4.5"/><rect x="240.12" y="309.89" width="6.1" height="4.5"/><rect x="247.33" y="309.89" width="6.1" height="4.5"/><rect x="254.55" y="309.89" width="6.1" height="4.5"/><rect x="261.76" y="309.89" width="6.1" height="4.5"/><rect x="268.98" y="309.89" width="6.1" height="4.5"/><rect x="38.10" y="315.22" width="6.1" height="4.5"/><rect x="45.31" y="315.22" width="6.1" height="4.5"/><rect x="52.53" y="315.22" width="6.1" height="4.5"/><rect x="59.75" y="315.22" width="6.1" height="4.5"/><rect x="66.96" y="315.22" width="6.1" height="4.5"/><rect x="74.18" y="315.22" width="6.1" height="4.5"/><rect x="81.39" y="315.22" width="6.1" height="4.5"/><rect x="88.60" y="315.22" width="6.1" height="4.5"/><rect x="95.82" y="315.22" width="6.1" height="4.5"/><rect x="103.03" y="315.22" width="6.1" height="4.5"/><rect x="110.25" y="315.22" width="6.1" height="4.5"/><rect x="117.47" y="315.22" width="6.1" height="4.5"/><rect x="124.68" y="315.22" width="6.1" height="4.5"/><rect x="131.90" y="315.22" width="6.1" height="4.5"/><rect x="139.11" y="315.22" width="6.1" height="4.5"/><rect x="146.32" y="315.22" width="6.1" height="4.5"/><rect x="153.54" y="315.22" width="6.1" height="4.5"/><rect x="160.75" y="315.22" width="6.1" height="4.5"/><rect x="167.97" y="315.22" width="6.1" height="4.5"/><rect x="175.19" y="315.22" width="6.1" height="4.5"/><rect x="182.40" y="315.22" width="6.1" height="4.5"/><rect x="189.61" y="315.22" width="6.1" height="4.5"/><rect x="196.83" y="315.22" width="6.1" height="4.5"/><rect x="204.04" y="315.22" width="6.1" height="4.5"/><rect x="211.26" y="315.22" width="6.1" height="4.5"/><rect x="218.47" y="315.22" width="6.1" height="4.5"/><rect x="225.69" y="315.22" width="6.1" height="4.5"/><rect x="232.91" y="315.22" width="6.1" height="4.5"/><rect x="240.12" y="315.22" width="6.1" height="4.5"/><rect x="247.33" y="315.22" width="6.1" height="4.5"/><rect x="254.55" y="315.22" width="6.1" height="4.5"/><rect x="261.76" y="315.22" width="6.1" height="4.5"/><rect x="268.98" y="315.22" width="6.1" height="4.5"/><rect x="38.10" y="320.55" width="6.1" height="4.5"/><rect x="45.31" y="320.55" width="6.1" height="4.5"/><rect x="52.53" y="320.55" width="6.1" height="4.5"/><rect x="59.75" y="320.55" width="6.1" height="4.5"/><rect x="66.96" y="320.55" width="6.1" height="4.5"/><rect x="74.18" y="320.55" width="6.1" height="4.5"/><rect x="81.39" y="320.55" width="6.1" height="4.5"/><rect x="88.60" y="320.55" width="6.1" height="4.5"/><rect x="95.82" y="320.55" width="6.1" height="4.5"/><rect x="103.03" y="320.55" width="6.1" height="4.5"/><rect x="110.25" y="320.55" width="6.1" height="4.5"/><rect x="117.47" y="320.55" width="6.1" height="4.5"/><rect x="124.68" y="320.55" width="6.1" height="4.5"/><rect x="131.90" y="320.55" width="6.1" height="4.5"/><rect x="139.11" y="320.55" width="6.1" height="4.5"/><rect x="146.32" y="320.55" width="6.1" height="4.5"/><rect x="153.54" y="320.55" width="6.1" height="4.5"/><rect x="160.75" y="320.55" width="6.1" height="4.5"/><rect x="167.97" y="320.55" width="6.1" height="4.5"/><rect x="175.19" y="320.55" width="6.1" height="4.5"/><rect x="182.40" y="320.55" width="6.1" height="4.5"/><rect x="189.61" y="320.55" width="6.1" height="4.5"/><rect x="196.83" y="320.55" width="6.1" height="4.5"/><rect x="204.04" y="320.55" width="6.1" height="4.5"/><rect x="211.26" y="320.55" width="6.1" height="4.5"/><rect x="218.47" y="320.55" width="6.1" height="4.5"/><rect x="225.69" y="320.55" width="6.1" height="4.5"/><rect x="232.91" y="320.55" width="6.1" height="4.5"/><rect x="240.12" y="320.55" width="6.1" height="4.5"/><rect x="247.33" y="320.55" width="6.1" height="4.5"/><rect x="254.55" y="320.55" width="6.1" height="4.5"/><rect x="261.76" y="320.55" width="6.1" height="4.5"/><rect x="268.98" y="320.55" width="6.1" height="4.5"/><rect x="38.10" y="325.88" width="6.1" height="4.5"/><rect x="45.31" y="325.88" width="6.1" height="4.5"/><rect x="52.53" y="325.88" width="6.1" height="4.5"/><rect x="59.75" y="325.88" width="6.1" height="4.5"/><rect x="66.96" y="325.88" width="6.1" height="4.5"/><rect x="74.18" y="325.88" width="6.1" height="4.5"/><rect x="81.39" y="325.88" width="6.1" height="4.5"/><rect x="88.60" y="325.88" width="6.1" height="4.5"/><rect x="95.82" y="325.88" width="6.1" height="4.5"/><rect x="103.03" y="325.88" width="6.1" height="4.5"/><rect x="110.25" y="325.88" width="6.1" height="4.5"/><rect x="117.47" y="325.88" width="6.1" height="4.5"/><rect x="124.68" y="325.88" width="6.1" height="4.5"/><rect x="131.90" y="325.88" width="6.1" height="4.5"/><rect x="139.11" y="325.88" width="6.1" height="4.5"/><rect x="146.32" y="325.88" width="6.1" height="4.5"/><rect x="153.54" y="325.88" width="6.1" height="4.5"/><rect x="160.75" y="325.88" width="6.1" height="4.5"/><rect x="167.97" y="325.88" width="6.1" height="4.5"/><rect x="175.19" y="325.88" width="6.1" height="4.5"/><rect x="182.40" y="325.88" width="6.1" height="4.5"/><rect x="189.61" y="325.88" width="6.1" height="4.5"/><rect x="196.83" y="325.88" width="6.1" height="4.5"/><rect x="204.04" y="325.88" width="6.1" height="4.5"/><rect x="211.26" y="325.88" width="6.1" height="4.5"/><rect x="218.47" y="325.88" width="6.1" height="4.5"/><rect x="225.69" y="325.88" width="6.1" height="4.5"/><rect x="232.91" y="325.88" width="6.1" height="4.5"/><rect x="240.12" y="325.88" width="6.1" height="4.5"/><rect x="247.33" y="325.88" width="6.1" height="4.5"/><rect x="254.55" y="325.88" width="6.1" height="4.5"/><rect x="261.76" y="325.88" width="6.1" height="4.5"/><rect x="268.98" y="325.88" width="6.1" height="4.5"/><rect x="38.10" y="331.21" width="6.1" height="4.5"/><rect x="45.31" y="331.21" width="6.1" height="4.5"/><rect x="52.53" y="331.21" width="6.1" height="4.5"/><rect x="59.75" y="331.21" width="6.1" height="4.5"/><rect x="66.96" y="331.21" width="6.1" height="4.5"/><rect x="74.18" y="331.21" width="6.1" height="4.5"/><rect x="81.39" y="331.21" width="6.1" height="4.5"/><rect x="88.60" y="331.21" width="6.1" height="4.5"/><rect x="95.82" y="331.21" width="6.1" height="4.5"/><rect x="103.03" y="331.21" width="6.1" height="4.5"/><rect x="110.25" y="331.21" width="6.1" height="4.5"/><rect x="117.47" y="331.21" width="6.1" height="4.5"/><rect x="124.68" y="331.21" width="6.1" height="4.5"/><rect x="131.90" y="331.21" width="6.1" height="4.5"/><rect x="139.11" y="331.21" width="6.1" height="4.5"/><rect x="146.32" y="331.21" width="6.1" height="4.5"/><rect x="153.54" y="331.21" width="6.1" height="4.5"/><rect x="160.75" y="331.21" width="6.1" height="4.5"/><rect x="167.97" y="331.21" width="6.1" height="4.5"/><rect x="175.19" y="331.21" width="6.1" height="4.5"/><rect x="182.40" y="331.21" width="6.1" height="4.5"/><rect x="189.61" y="331.21" width="6.1" height="4.5"/><rect x="196.83" y="331.21" width="6.1" height="4.5"/><rect x="204.04" y="331.21" width="6.1" height="4.5"/><rect x="211.26" y="331.21" width="6.1" height="4.5"/><rect x="218.47" y="331.21" width="6.1" height="4.5"/><rect x="225.69" y="331.21" width="6.1" height="4.5"/><rect x="232.91" y="331.21" width="6.1" height="4.5"/><rect x="240.12" y="331.21" width="6.1" height="4.5"/><rect x="247.33" y="331.21" width="6.1" height="4.5"/><rect x="254.55" y="331.21" width="6.1" height="4.5"/><rect x="261.76" y="331.21" width="6.1" height="4.5"/><rect x="268.98" y="331.21" width="6.1" height="4.5"/><rect x="38.10" y="336.54" width="6.1" height="4.5"/><rect x="45.31" y="336.54" width="6.1" height="4.5"/><rect x="52.53" y="336.54" width="6.1" height="4.5"/><rect x="59.75" y="336.54" width="6.1" height="4.5"/><rect x="66.96" y="336.54" width="6.1" height="4.5"/><rect x="74.18" y="336.54" width="6.1" height="4.5"/><rect x="81.39" y="336.54" width="6.1" height="4.5"/><rect x="88.60" y="336.54" width="6.1" height="4.5"/><rect x="95.82" y="336.54" width="6.1" height="4.5"/><rect x="103.03" y="336.54" width="6.1" height="4.5"/><rect x="110.25" y="336.54" width="6.1" height="4.5"/><rect x="117.47" y="336.54" width="6.1" height="4.5"/><rect x="124.68" y="336.54" width="6.1" height="4.5"/><rect x="131.90" y="336.54" width="6.1" height="4.5"/><rect x="139.11" y="336.54" width="6.1" height="4.5"/><rect x="146.32" y="336.54" width="6.1" height="4.5"/><rect x="153.54" y="336.54" width="6.1" height="4.5"/><rect x="160.75" y="336.54" width="6.1" height="4.5"/><rect x="167.97" y="336.54" width="6.1" height="4.5"/><rect x="175.19" y="336.54" width="6.1" height="4.5"/><rect x="182.40" y="336.54" width="6.1" height="4.5"/><rect x="189.61" y="336.54" width="6.1" height="4.5"/><rect x="196.83" y="336.54" width="6.1" height="4.5"/><rect x="204.04" y="336.54" width="6.1" height="4.5"/><rect x="211.26" y="336.54" width="6.1" height="4.5"/><rect x="218.47" y="336.54" width="6.1" height="4.5"/><rect x="225.69" y="336.54" width="6.1" height="4.5"/><rect x="232.91" y="336.54" width="6.1" height="4.5"/><rect x="240.12" y="336.54" width="6.1" height="4.5"/><rect x="247.33" y="336.54" width="6.1" height="4.5"/><rect x="254.55" y="336.54" width="6.1" height="4.5"/><rect x="261.76" y="336.54" width="6.1" height="4.5"/><rect x="268.98" y="336.54" width="6.1" height="4.5"/><rect x="38.10" y="341.87" width="6.1" height="4.5"/><rect x="45.31" y="341.87" width="6.1" height="4.5"/><rect x="52.53" y="341.87" width="6.1" height="4.5"/><rect x="59.75" y="341.87" width="6.1" height="4.5"/><rect x="66.96" y="341.87" width="6.1" height="4.5"/><rect x="74.18" y="341.87" width="6.1" height="4.5"/><rect x="81.39" y="341.87" width="6.1" height="4.5"/><rect x="88.60" y="341.87" width="6.1" height="4.5"/><rect x="95.82" y="341.87" width="6.1" height="4.5"/><rect x="103.03" y="341.87" width="6.1" height="4.5"/><rect x="110.25" y="341.87" width="6.1" height="4.5"/><rect x="117.47" y="341.87" width="6.1" height="4.5"/><rect x="124.68" y="341.87" width="6.1" height="4.5"/><rect x="131.90" y="341.87" width="6.1" height="4.5"/><rect x="139.11" y="341.87" width="6.1" height="4.5"/><rect x="146.32" y="341.87" width="6.1" height="4.5"/><rect x="153.54" y="341.87" width="6.1" height="4.5"/><rect x="160.75" y="341.87" width="6.1" height="4.5"/><rect x="167.97" y="341.87" width="6.1" height="4.5"/><rect x="175.19" y="341.87" width="6.1" height="4.5"/><rect x="182.40" y="341.87" width="6.1" height="4.5"/><rect x="189.61" y="341.87" width="6.1" height="4.5"/><rect x="196.83" y="341.87" width="6.1" height="4.5"/><rect x="204.04" y="341.87" width="6.1" height="4.5"/><rect x="211.26" y="341.87" width="6.1" height="4.5"/><rect x="218.47" y="341.87" width="6.1" height="4.5"/><rect x="225.69" y="341.87" width="6.1" height="4.5"/><rect x="232.91" y="341.87" width="6.1" height="4.5"/><rect x="240.12" y="341.87" width="6.1" height="4.5"/><rect x="247.33" y="341.87" width="6.1" height="4.5"/><rect x="254.55" y="341.87" width="6.1" height="4.5"/><rect x="261.76" y="341.87" width="6.1" height="4.5"/><rect x="268.98" y="341.87" width="6.1" height="4.5"/><rect x="38.10" y="347.20" width="6.1" height="4.5"/><rect x="45.31" y="347.20" width="6.1" height="4.5"/><rect x="52.53" y="347.20" width="6.1" height="4.5"/><rect x="59.75" y="347.20" width="6.1" height="4.5"/><rect x="66.96" y="347.20" width="6.1" height="4.5"/><rect x="74.18" y="347.20" width="6.1" height="4.5"/><rect x="81.39" y="347.20" width="6.1" height="4.5"/><rect x="88.60" y="347.20" width="6.1" height="4.5"/><rect x="95.82" y="347.20" width="6.1" height="4.5"/><rect x="103.03" y="347.20" width="6.1" height="4.5"/><rect x="110.25" y="347.20" width="6.1" height="4.5"/><rect x="117.47" y="347.20" width="6.1" height="4.5"/><rect x="124.68" y="347.20" width="6.1" height="4.5"/><rect x="131.90" y="347.20" width="6.1" height="4.5"/><rect x="139.11" y="347.20" width="6.1" height="4.5"/><rect x="146.32" y="347.20" width="6.1" height="4.5"/><rect x="153.54" y="347.20" width="6.1" height="4.5"/><rect x="160.75" y="347.20" width="6.1" height="4.5"/><rect x="167.97" y="347.20" width="6.1" height="4.5"/><rect x="175.19" y="347.20" width="6.1" height="4.5"/><rect x="182.40" y="347.20" width="6.1" height="4.5"/><rect x="189.61" y="347.20" width="6.1" height="4.5"/><rect x="196.83" y="347.20" width="6.1" height="4.5"/><rect x="204.04" y="347.20" width="6.1" height="4.5"/><rect x="211.26" y="347.20" width="6.1" height="4.5"/><rect x="218.47" y="347.20" width="6.1" height="4.5"/><rect x="225.69" y="347.20" width="6.1" height="4.5"/><rect x="232.91" y="347.20" width="6.1" height="4.5"/><rect x="240.12" y="347.20" width="6.1" height="4.5"/><rect x="247.33" y="347.20" width="6.1" height="4.5"/><rect x="254.55" y="347.20" width="6.1" height="4.5"/><rect x="261.76" y="347.20" width="6.1" height="4.5"/><rect x="268.98" y="347.20" width="6.1" height="4.5"/><rect x="38.10" y="352.53" width="6.1" height="4.5"/><rect x="45.31" y="352.53" width="6.1" height="4.5"/><rect x="52.53" y="352.53" width="6.1" height="4.5"/><rect x="59.75" y="352.53" width="6.1" height="4.5"/><rect x="66.96" y="352.53" width="6.1" height="4.5"/><rect x="74.18" y="352.53" width="6.1" height="4.5"/><rect x="81.39" y="352.53" width="6.1" height="4.5"/><rect x="88.60" y="352.53" width="6.1" height="4.5"/><rect x="95.82" y="352.53" width="6.1" height="4.5"/><rect x="103.03" y="352.53" width="6.1" height="4.5"/><rect x="110.25" y="352.53" width="6.1" height="4.5"/><rect x="117.47" y="352.53" width="6.1" height="4.5"/><rect x="124.68" y="352.53" width="6.1" height="4.5"/><rect x="131.90" y="352.53" width="6.1" height="4.5"/><rect x="139.11" y="352.53" width="6.1" height="4.5"/><rect x="146.32" y="352.53" width="6.1" height="4.5"/><rect x="153.54" y="352.53" width="6.1" height="4.5"/><rect x="160.75" y="352.53" width="6.1" height="4.5"/><rect x="167.97" y="352.53" width="6.1" height="4.5"/><rect x="175.19" y="352.53" width="6.1" height="4.5"/><rect x="182.40" y="352.53" width="6.1" height="4.5"/><rect x="189.61" y="352.53" width="6.1" height="4.5"/><rect x="196.83" y="352.53" width="6.1" height="4.5"/><rect x="204.04" y="352.53" width="6.1" height="4.5"/><rect x="211.26" y="352.53" width="6.1" height="4.5"/><rect x="218.47" y="352.53" width="6.1" height="4.5"/><rect x="225.69" y="352.53" width="6.1" height="4.5"/><rect x="232.91" y="352.53" width="6.1" height="4.5"/><rect x="240.12" y="352.53" width="6.1" height="4.5"/><rect x="247.33" y="352.53" width="6.1" height="4.5"/><rect x="254.55" y="352.53" width="6.1" height="4.5"/><rect x="261.76" y="352.53" width="6.1" height="4.5"/><rect x="268.98" y="352.53" width="6.1" height="4.5"/><rect x="38.10" y="357.86" width="6.1" height="4.5"/><rect x="45.31" y="357.86" width="6.1" height="4.5"/><rect x="52.53" y="357.86" width="6.1" height="4.5"/><rect x="59.75" y="357.86" width="6.1" height="4.5"/><rect x="66.96" y="357.86" width="6.1" height="4.5"/><rect x="74.18" y="357.86" width="6.1" height="4.5"/><rect x="81.39" y="357.86" width="6.1" height="4.5"/><rect x="88.60" y="357.86" width="6.1" height="4.5"/><rect x="95.82" y="357.86" width="6.1" height="4.5"/><rect x="103.03" y="357.86" width="6.1" height="4.5"/><rect x="110.25" y="357.86" width="6.1" height="4.5"/><rect x="117.47" y="357.86" width="6.1" height="4.5"/><rect x="124.68" y="357.86" width="6.1" height="4.5"/><rect x="131.90" y="357.86" width="6.1" height="4.5"/><rect x="139.11" y="357.86" width="6.1" height="4.5"/><rect x="146.32" y="357.86" width="6.1" height="4.5"/><rect x="153.54" y="357.86" width="6.1" height="4.5"/><rect x="160.75" y="357.86" width="6.1" height="4.5"/><rect x="167.97" y="357.86" width="6.1" height="4.5"/><rect x="175.19" y="357.86" width="6.1" height="4.5"/><rect x="182.40" y="357.86" width="6.1" height="4.5"/><rect x="189.61" y="357.86" width="6.1" height="4.5"/><rect x="196.83" y="357.86" width="6.1" height="4.5"/><rect x="204.04" y="357.86" width="6.1" height="4.5"/><rect x="211.26" y="357.86" width="6.1" height="4.5"/><rect x="218.47" y="357.86" width="6.1" height="4.5"/><rect x="225.69" y="357.86" width="6.1" height="4.5"/><rect x="232.91" y="357.86" width="6.1" height="4.5"/><rect x="240.12" y="357.86" width="6.1" height="4.5"/><rect x="247.33" y="357.86" width="6.1" height="4.5"/><rect x="254.55" y="357.86" width="6.1" height="4.5"/><rect x="261.76" y="357.86" width="6.1" height="4.5"/><rect x="268.98" y="357.86" width="6.1" height="4.5"/></g>
<g fill="#c8160d"><rect x="38.10" y="240.60" width="6.1" height="4.5"/><rect x="45.31" y="240.60" width="6.1" height="4.5"/><rect x="52.53" y="240.60" width="6.1" height="4.5"/><rect x="59.75" y="240.60" width="6.1" height="4.5"/><rect x="66.96" y="240.60" width="6.1" height="4.5"/><rect x="74.18" y="240.60" width="6.1" height="4.5"/><rect x="81.39" y="240.60" width="6.1" height="4.5"/><rect x="88.60" y="240.60" width="6.1" height="4.5"/><rect x="95.82" y="240.60" width="6.1" height="4.5"/><rect x="103.03" y="240.60" width="6.1" height="4.5"/><rect x="110.25" y="240.60" width="6.1" height="4.5"/><rect x="117.47" y="240.60" width="6.1" height="4.5"/><rect x="124.68" y="240.60" width="6.1" height="4.5"/><rect x="131.90" y="240.60" width="6.1" height="4.5"/><rect x="139.11" y="240.60" width="6.1" height="4.5"/><rect x="146.32" y="240.60" width="6.1" height="4.5"/><rect x="153.54" y="240.60" width="6.1" height="4.5"/><rect x="160.75" y="240.60" width="6.1" height="4.5"/><rect x="167.97" y="240.60" width="6.1" height="4.5"/><rect x="175.19" y="240.60" width="6.1" height="4.5"/><rect x="182.40" y="240.60" width="6.1" height="4.5"/><rect x="189.61" y="240.60" width="6.1" height="4.5"/><rect x="196.83" y="240.60" width="6.1" height="4.5"/><rect x="204.04" y="240.60" width="6.1" height="4.5"/><rect x="211.26" y="240.60" width="6.1" height="4.5"/><rect x="218.47" y="240.60" width="6.1" height="4.5"/><rect x="225.69" y="240.60" width="6.1" height="4.5"/><rect x="232.91" y="240.60" width="6.1" height="4.5"/><rect x="240.12" y="240.60" width="6.1" height="4.5"/><rect x="247.33" y="240.60" width="6.1" height="4.5"/><rect x="254.55" y="240.60" width="6.1" height="4.5"/><rect x="261.76" y="240.60" width="6.1" height="4.5"/><rect x="268.98" y="240.60" width="6.1" height="4.5"/></g>
<rect x="38.10" y="245.93" width="6.1" height="4.5" fill="#dc6266"/><rect x="45.31" y="245.93" width="6.1" height="4.5" fill="#dc6266"/><rect x="52.53" y="245.93" width="6.1" height="4.5" fill="#dc6266"/><rect x="59.75" y="245.93" width="6.1" height="4.5" fill="#dc6266"/><rect x="66.96" y="245.93" width="6.1" height="4.5" fill="#dc6266"/><rect x="74.18" y="245.93" width="6.1" height="4.5" fill="#dc6266"/><rect x="81.39" y="245.93" width="6.1" height="4.5" fill="#dc6266"/><rect x="88.60" y="245.93" width="6.1" height="4.5" fill="#dc6266"/><rect x="95.82" y="245.93" width="6.1" height="4.5" fill="#dc6266"/><rect x="103.03" y="245.93" width="6.1" height="4.5" fill="#dc6266"/><rect x="110.25" y="245.93" width="6.1" height="4.5" fill="#dc6266"/><rect x="117.47" y="245.93" width="6.1" height="4.5" fill="#dc6266"/><rect x="124.68" y="245.93" width="6.1" height="4.5" fill="#dc6266"/><rect x="131.90" y="245.93" width="6.1" height="4.5" fill="#dc6266"/><rect x="139.11" y="245.93" width="6.1" height="4.5" fill="#dc6266"/><rect x="146.32" y="245.93" width="6.1" height="4.5" fill="#dc6266"/><rect x="153.54" y="245.93" width="6.1" height="4.5" fill="#dc6266"/><rect x="160.75" y="245.93" width="6.1" height="4.5" fill="#dc6266"/><rect x="167.97" y="245.93" width="6.1" height="4.5" fill="#dc6266"/><rect x="175.19" y="245.93" width="6.1" height="4.5" fill="#dc6266"/><rect x="182.40" y="245.93" width="6.1" height="4.5" fill="#dc6266"/><rect x="189.61" y="245.93" width="6.1" height="4.5" fill="#dc6266"/><rect x="196.83" y="245.93" width="6.1" height="4.5" fill="#dc6266"/><rect x="204.04" y="245.93" width="6.1" height="4.5" fill="#dc6266"/><rect x="211.26" y="245.93" width="6.1" height="4.5" fill="#dc6266"/><rect x="218.47" y="245.93" width="6.1" height="4.5" fill="#dc6266"/><rect x="225.69" y="245.93" width="6.1" height="4.5" fill="#f0f0f0"/><rect x="232.91" y="245.93" width="6.1" height="4.5" fill="#f0f0f0"/><rect x="240.12" y="245.93" width="6.1" height="4.5" fill="#f0f0f0"/><rect x="247.33" y="245.93" width="6.1" height="4.5" fill="#f0f0f0"/><rect x="254.55" y="245.93" width="6.1" height="4.5" fill="#f0f0f0"/><rect x="261.76" y="245.93" width="6.1" height="4.5" fill="#f0f0f0"/><rect x="268.98" y="245.93" width="6.1" height="4.5" fill="#f0f0f0"/>
<rect x="189.61" y="251.26" width="6.1" height="4.5" fill="#8c2463"/><rect x="196.83" y="251.26" width="6.1" height="4.5" fill="#8c2463"/><rect x="204.04" y="251.26" width="6.1" height="4.5" fill="#8c2463"/><rect x="211.26" y="251.26" width="6.1" height="4.5" fill="#8c2463"/><rect x="218.47" y="251.26" width="6.1" height="4.5" fill="#8c2463"/><rect x="225.69" y="251.26" width="6.1" height="4.5" fill="#8c2463"/><rect x="232.91" y="251.26" width="6.1" height="4.5" fill="#8c2463"/><rect x="182.40" y="256.59" width="6.1" height="4.5" fill="#8c2463"/><rect x="211.26" y="256.59" width="6.1" height="4.5" fill="#8c2463"/><rect x="218.47" y="256.59" width="6.1" height="4.5" fill="#8c2463"/><rect x="225.69" y="256.59" width="6.1" height="4.5" fill="#8c2463"/><rect x="146.32" y="261.92" width="6.1" height="4.5" fill="#8c2463"/><rect x="153.54" y="261.92" width="6.1" height="4.5" fill="#8c2463"/><rect x="232.91" y="261.92" width="6.1" height="4.5" fill="#8c2463"/><rect x="167.97" y="267.25" width="6.1" height="4.5" fill="#8c2463"/><rect x="225.69" y="267.25" width="6.1" height="4.5" fill="#8c2463"/><rect x="160.75" y="272.58" width="6.1" height="4.5" fill="#5eb0e8"/><rect x="167.97" y="272.58" width="6.1" height="4.5" fill="#5eb0e8"/><rect x="175.19" y="272.58" width="6.1" height="4.5" fill="#5eb0e8"/><rect x="182.40" y="272.58" width="6.1" height="4.5" fill="#5eb0e8"/><rect x="189.61" y="272.58" width="6.1" height="4.5" fill="#5eb0e8"/><rect x="167.97" y="277.91" width="6.1" height="4.5" fill="#5eb0e8"/><rect x="139.11" y="283.24" width="6.1" height="4.5" fill="#5eb0e8"/><rect x="146.32" y="288.57" width="6.1" height="4.5" fill="#ebb640"/><rect x="153.54" y="288.57" width="6.1" height="4.5" fill="#ebb640"/><rect x="232.91" y="288.57" width="6.1" height="4.5" fill="#ebb640"/><rect x="131.90" y="293.90" width="6.1" height="4.5" fill="#ebb640"/><rect x="218.47" y="293.90" width="6.1" height="4.5" fill="#ebb640"/><rect x="103.03" y="299.23" width="6.1" height="4.5" fill="#ebb640"/><rect x="167.97" y="299.23" width="6.1" height="4.5" fill="#ebb640"/><rect x="189.61" y="304.56" width="6.1" height="4.5" fill="#ebb640"/><rect x="225.69" y="309.89" width="6.1" height="4.5" fill="#ebb640"/><rect x="124.68" y="315.22" width="6.1" height="4.5" fill="#3d8c8b"/><rect x="131.90" y="315.22" width="6.1" height="4.5" fill="#3d8c8b"/><rect x="117.47" y="320.55" width="6.1" height="4.5" fill="#3d8c8b"/><rect x="160.75" y="325.88" width="6.1" height="4.5" fill="#3d8c8b"/><rect x="139.11" y="331.21" width="6.1" height="4.5" fill="#3d8c8b"/><rect x="146.32" y="336.54" width="6.1" height="4.5" fill="#e0852b"/><rect x="189.61" y="336.54" width="6.1" height="4.5" fill="#e0852b"/><rect x="218.47" y="336.54" width="6.1" height="4.5" fill="#e0852b"/><rect x="225.69" y="336.54" width="6.1" height="4.5" fill="#e0852b"/><rect x="88.60" y="341.87" width="6.1" height="4.5" fill="#ebb640"/><rect x="95.82" y="341.87" width="6.1" height="4.5" fill="#ebb640"/><rect x="182.40" y="341.87" width="6.1" height="4.5" fill="#e0852b"/><rect x="196.83" y="341.87" width="6.1" height="4.5" fill="#e0852b"/><rect x="240.12" y="341.87" width="6.1" height="4.5" fill="#e0852b"/><rect x="240.12" y="347.20" width="6.1" height="4.5" fill="#e0852b"/><rect x="139.11" y="352.53" width="6.1" height="4.5" fill="#e0852b"/><rect x="110.25" y="357.86" width="6.1" height="4.5" fill="#e0852b"/>
<g font-size="3.2" fill="#fff" text-anchor="middle"><text x="41.15" y="249.33">3</text><text x="48.36" y="249.33">4</text><text x="55.58" y="249.33">5</text><text x="62.80" y="249.33">2</text><text x="70.01" y="249.33">5</text><text x="77.23" y="249.33">11</text><text x="84.44" y="249.33">2</text><text x="91.65" y="249.33">16</text><text x="98.87" y="249.33">8</text><text x="106.08" y="249.33">14</text><text x="113.30" y="249.33">6</text><text x="120.52" y="249.33">7</text><text x="127.73" y="249.33">11</text><text x="134.95" y="249.33">23</text><text x="142.16" y="249.33">37</text><text x="149.38" y="249.33">10</text><text x="156.59" y="249.33">10</text><text x="163.81" y="249.33">27</text><text x="171.02" y="249.33">34</text><text x="178.24" y="249.33">10</text><text x="185.45" y="249.33">22</text><text x="192.66" y="249.33">9</text><text x="199.88" y="249.33">8</text><text x="207.09" y="249.33">9</text><text x="214.31" y="249.33">12</text><text x="221.53" y="249.33">12</text><text x="192.66" y="254.66">3</text><text x="199.88" y="254.66">2</text><text x="207.09" y="254.66">4</text><text x="214.31" y="254.66">5</text><text x="221.53" y="254.66">2</text><text x="228.74" y="254.66">14</text><text x="235.96" y="254.66">14</text><text x="185.45" y="259.99">12</text><text x="214.31" y="259.99">4</text><text x="221.53" y="259.99">8</text><text x="228.74" y="259.99">7</text><text x="149.38" y="265.32">3</text><text x="156.59" y="265.32">14</text><text x="235.96" y="265.32">5</text><text x="171.02" y="270.65">14</text><text x="228.74" y="270.65">10</text><text x="163.81" y="275.98">11</text><text x="171.02" y="275.98">20</text><text x="178.24" y="275.98">4</text><text x="185.45" y="275.98">15</text><text x="192.66" y="275.98">9</text><text x="171.02" y="281.31">2</text><text x="142.16" y="286.64">13</text><text x="149.38" y="291.97">6</text><text x="156.59" y="291.97">10</text><text x="235.96" y="291.97">3</text><text x="134.95" y="297.30">4</text><text x="221.53" y="297.30">4</text><text x="106.08" y="302.63">12</text><text x="171.02" y="302.63">4</text><text x="192.66" y="307.96">4</text><text x="228.74" y="313.29">37</text><text x="127.73" y="318.62">7</text><text x="134.95" y="318.62">29</text><text x="120.52" y="323.95">37</text><text x="163.81" y="329.28">18</text><text x="142.16" y="334.61">13</text><text x="149.38" y="339.94">3</text><text x="192.66" y="339.94">18</text><text x="221.53" y="339.94">18</text><text x="228.74" y="339.94">34</text><text x="91.65" y="345.27">52</text><text x="98.87" y="345.27">9</text><text x="185.45" y="345.27">15</text><text x="199.88" y="345.27">6</text><text x="243.17" y="345.27">6</text><text x="243.17" y="350.60">33</text><text x="142.16" y="355.93">3</text><text x="113.30" y="361.26">88</text></g>
<rect x="38.10" y="365.2" width="6.1" height="3.8" fill="#cbc4e0"/><rect x="38.10" y="372.1" width="6.1" height="3.9" fill="#9dc74b"/><rect x="38.10" y="379.1" width="6.1" height="3.8" fill="#bfdce9"/><rect x="45.31" y="365.2" width="6.1" height="3.8" fill="#cbc4e0"/><rect x="45.31" y="372.1" width="6.1" height="3.9" fill="#9dc74b"/><rect x="45.31" y="379.1" width="6.1" height="3.8" fill="#bfdce9"/><rect x="52.53" y="365.2" width="6.1" height="3.8" fill="#cbc4e0"/><rect x="52.53" y="372.1" width="6.1" height="3.9" fill="#9dc74b"/><rect x="52.53" y="379.1" width="6.1" height="3.8" fill="#bfdce9"/><rect x="59.75" y="365.2" width="6.1" height="3.8" fill="#cbc4e0"/><rect x="59.75" y="372.1" width="6.1" height="3.9" fill="#52a34d"/><rect x="59.75" y="379.1" width="6.1" height="3.8" fill="#4e7f99"/><rect x="66.96" y="365.2" width="6.1" height="3.8" fill="#cbc4e0"/><rect x="66.96" y="372.1" width="6.1" height="3.9" fill="#52a34d"/><rect x="66.96" y="379.1" width="6.1" height="3.8" fill="#4e7f99"/><rect x="74.18" y="365.2" width="6.1" height="3.8" fill="#cbc4e0"/><rect x="74.18" y="372.1" width="6.1" height="3.9" fill="#52a34d"/><rect x="74.18" y="379.1" width="6.1" height="3.8" fill="#4e7f99"/><rect x="81.39" y="365.2" width="6.1" height="3.8" fill="#cbc4e0"/><rect x="81.39" y="372.1" width="6.1" height="3.9" fill="#2f6a21"/><rect x="81.39" y="379.1" width="6.1" height="3.8" fill="#4e7f99"/><rect x="88.60" y="365.2" width="6.1" height="3.8" fill="#cbc4e0"/><rect x="88.60" y="372.1" width="6.1" height="3.9" fill="#9dc74b"/><rect x="88.60" y="379.1" width="6.1" height="3.8" fill="#bfdce9"/><rect x="95.82" y="365.2" width="6.1" height="3.8" fill="#cbc4e0"/><rect x="95.82" y="372.1" width="6.1" height="3.9" fill="#2f6a21"/><rect x="95.82" y="379.1" width="6.1" height="3.8" fill="#4e7f99"/><rect x="103.03" y="365.2" width="6.1" height="3.8" fill="#cbc4e0"/><rect x="103.03" y="372.1" width="6.1" height="3.9" fill="#9dc74b"/><rect x="103.03" y="379.1" width="6.1" height="3.8" fill="#bfdce9"/><rect x="110.25" y="365.2" width="6.1" height="3.8" fill="#cbc4e0"/><rect x="110.25" y="372.1" width="6.1" height="3.9" fill="#2f6a21"/><rect x="110.25" y="379.1" width="6.1" height="3.8" fill="#4e7f99"/><rect x="117.47" y="365.2" width="6.1" height="3.8" fill="#cbc4e0"/><rect x="117.47" y="372.1" width="6.1" height="3.9" fill="#9dc74b"/><rect x="117.47" y="379.1" width="6.1" height="3.8" fill="#bfdce9"/><rect x="124.68" y="365.2" width="6.1" height="3.8" fill="#cbc4e0"/><rect x="124.68" y="372.1" width="6.1" height="3.9" fill="#2f6a21"/><rect x="124.68" y="379.1" width="6.1" height="3.8" fill="#4e7f99"/><rect x="131.90" y="365.2" width="6.1" height="3.8" fill="#cbc4e0"/><rect x="131.90" y="372.1" width="6.1" height="3.9" fill="#9dc74b"/><rect x="131.90" y="379.1" width="6.1" height="3.8" fill="#bfdce9"/><rect x="139.11" y="365.2" width="6.1" height="3.8" fill="#cbc4e0"/><rect x="139.11" y="372.1" width="6.1" height="3.9" fill="#2f6a21"/><rect x="139.11" y="379.1" width="6.1" height="3.8" fill="#4e7f99"/><rect x="146.32" y="365.2" width="6.1" height="3.8" fill="#241b40"/><rect x="146.32" y="372.1" width="6.1" height="3.9" fill="#2f6a21"/><rect x="146.32" y="379.1" width="6.1" height="3.8" fill="#4e7f99"/><rect x="153.54" y="365.2" width="6.1" height="3.8" fill="#cbc4e0"/><rect x="153.54" y="372.1" width="6.1" height="3.9" fill="#2f6a21"/><rect x="153.54" y="379.1" width="6.1" height="3.8" fill="#4e7f99"/><rect x="160.75" y="365.2" width="6.1" height="3.8" fill="#cbc4e0"/><rect x="160.75" y="372.1" width="6.1" height="3.9" fill="#9dc74b"/><rect x="160.75" y="379.1" width="6.1" height="3.8" fill="#bfdce9"/><rect x="167.97" y="365.2" width="6.1" height="3.8" fill="#cbc4e0"/><rect x="167.97" y="372.1" width="6.1" height="3.9" fill="#52a34d"/><rect x="167.97" y="379.1" width="6.1" height="3.8" fill="#4e7f99"/><rect x="175.19" y="365.2" width="6.1" height="3.8" fill="#cbc4e0"/><rect x="175.19" y="372.1" width="6.1" height="3.9" fill="#2f6a21"/><rect x="175.19" y="379.1" width="6.1" height="3.8" fill="#4e7f99"/><rect x="182.40" y="365.2" width="6.1" height="3.8" fill="#6b50a1"/><rect x="182.40" y="372.1" width="6.1" height="3.9" fill="#2f6a21"/><rect x="182.40" y="379.1" width="6.1" height="3.8" fill="#4e7f99"/><rect x="189.61" y="365.2" width="6.1" height="3.8" fill="#cbc4e0"/><rect x="189.61" y="372.1" width="6.1" height="3.9" fill="#52a34d"/><rect x="189.61" y="379.1" width="6.1" height="3.8" fill="#4e7f99"/><rect x="196.83" y="365.2" width="6.1" height="3.8" fill="#cbc4e0"/><rect x="196.83" y="372.1" width="6.1" height="3.9" fill="#52a34d"/><rect x="196.83" y="379.1" width="6.1" height="3.8" fill="#bfdce9"/><rect x="204.04" y="365.2" width="6.1" height="3.8" fill="#6b50a1"/><rect x="204.04" y="372.1" width="6.1" height="3.9" fill="#52a34d"/><rect x="204.04" y="379.1" width="6.1" height="3.8" fill="#4e7f99"/><rect x="211.26" y="365.2" width="6.1" height="3.8" fill="#cbc4e0"/><rect x="211.26" y="372.1" width="6.1" height="3.9" fill="#9dc74b"/><rect x="211.26" y="379.1" width="6.1" height="3.8" fill="#bfdce9"/><rect x="218.47" y="365.2" width="6.1" height="3.8" fill="#6b50a1"/><rect x="218.47" y="372.1" width="6.1" height="3.9" fill="#2f6a21"/><rect x="218.47" y="379.1" width="6.1" height="3.8" fill="#4e7f99"/><rect x="225.69" y="365.2" width="6.1" height="3.8" fill="#cbc4e0"/><rect x="225.69" y="372.1" width="6.1" height="3.9" fill="#9dc74b"/><rect x="225.69" y="379.1" width="6.1" height="3.8" fill="#bfdce9"/><rect x="232.91" y="365.2" width="6.1" height="3.8" fill="#cbc4e0"/><rect x="232.91" y="372.1" width="6.1" height="3.9" fill="#9dc74b"/><rect x="232.91" y="379.1" width="6.1" height="3.8" fill="#bfdce9"/><rect x="240.12" y="365.2" width="6.1" height="3.8" fill="#cbc4e0"/><rect x="240.12" y="372.1" width="6.1" height="3.9" fill="#2f6a21"/><rect x="240.12" y="379.1" width="6.1" height="3.8" fill="#4e7f99"/><rect x="247.33" y="365.2" width="6.1" height="3.8" fill="#cbc4e0"/><rect x="247.33" y="372.1" width="6.1" height="3.9" fill="#52a34d"/><rect x="247.33" y="379.1" width="6.1" height="3.8" fill="#bfdce9"/><rect x="254.55" y="365.2" width="6.1" height="3.8" fill="#cbc4e0"/><rect x="254.55" y="372.1" width="6.1" height="3.9" fill="#52a34d"/><rect x="254.55" y="379.1" width="6.1" height="3.8" fill="#4e7f99"/><rect x="261.76" y="365.2" width="6.1" height="3.8" fill="#cbc4e0"/><rect x="261.76" y="372.1" width="6.1" height="3.9" fill="#52a34d"/><rect x="261.76" y="379.1" width="6.1" height="3.8" fill="#4e7f99"/><rect x="268.98" y="365.2" width="6.1" height="3.8" fill="#cbc4e0"/><rect x="268.98" y="372.1" width="6.1" height="3.9" fill="#52a34d"/><rect x="268.98" y="379.1" width="6.1" height="3.8" fill="#4e7f99"/>
<g font-size="4.7" fill="#222" text-anchor="end"><text x="34.8" y="238.2">Patient Index</text><text x="34.8" y="244.20" font-style="italic">DDX41 GL</text><text x="34.8" y="249.53" font-style="italic">DDX41 Som</text><text x="34.8" y="254.86" font-style="italic">ASXL1</text><text x="34.8" y="260.19" font-style="italic">EZH2</text><text x="34.8" y="265.52" font-style="italic">DNMT3A</text><text x="34.8" y="270.85" font-style="italic">TET2</text><text x="34.8" y="276.18" font-style="italic">SRSF2</text><text x="34.8" y="281.51" font-style="italic">SF3B1</text><text x="34.8" y="286.84" font-style="italic">ZRSR2</text><text x="34.8" y="292.17" font-style="italic">NF1</text><text x="34.8" y="297.50" font-style="italic">CBL</text><text x="34.8" y="302.83" font-style="italic">JAK2</text><text x="34.8" y="308.16" font-style="italic">KRAS</text><text x="34.8" y="313.49" font-style="italic">MPL</text><text x="34.8" y="318.82" font-style="italic">TP53</text><text x="34.8" y="324.15" font-style="italic">PPM1D</text><text x="34.8" y="329.48" font-style="italic">RUNX1</text><text x="34.8" y="334.81" font-style="italic">KMT2D</text><text x="34.8" y="340.14" font-style="italic">SETBP1</text><text x="34.8" y="345.47" font-style="italic">CUX1</text><text x="34.8" y="350.80" font-style="italic">CTCF</text><text x="34.8" y="356.13" font-style="italic">IRF1</text><text x="34.8" y="361.46" font-style="italic">CREBBP</text><text x="34.8" y="368.8">Karyotype</text><text x="34.8" y="375.8">Blast count</text><text x="34.8" y="382.7">High Risk</text></g>
<g font-size="4.5" fill="#111"><text transform="translate(39.10 237.0) rotate(-45)">#3</text><text transform="translate(46.31 237.0) rotate(-45)">#13</text><text transform="translate(53.53 237.0) rotate(-45)">#16</text><text transform="translate(60.75 237.0) rotate(-45)">#22</text><text transform="translate(67.96 237.0) rotate(-45)">#25</text><text transform="translate(75.18 237.0) rotate(-45)">#36</text><text transform="translate(82.39 237.0) rotate(-45)">#42</text><text transform="translate(89.60 237.0) rotate(-45)">#1</text><text transform="translate(96.82 237.0) rotate(-45)">#15</text><text transform="translate(104.03 237.0) rotate(-45)">#6</text><text transform="translate(111.25 237.0) rotate(-45)">#37</text><text transform="translate(118.47 237.0) rotate(-45)">#8</text><text transform="translate(125.68 237.0) rotate(-45)">#43</text><text transform="translate(132.90 237.0) rotate(-45)">#7</text><text transform="translate(140.11 237.0) rotate(-45)">#28</text><text transform="translate(147.32 237.0) rotate(-45)">#10</text><text transform="translate(154.54 237.0) rotate(-45)">#17</text><text transform="translate(161.75 237.0) rotate(-45)">#18</text><text transform="translate(168.97 237.0) rotate(-45)">#41</text><text transform="translate(176.19 237.0) rotate(-45)">#9</text><text transform="translate(183.40 237.0) rotate(-45)">#23</text><text transform="translate(190.61 237.0) rotate(-45)">#26</text><text transform="translate(197.83 237.0) rotate(-45)">#20</text><text transform="translate(205.04 237.0) rotate(-45)">#11</text><text transform="translate(212.26 237.0) rotate(-45)">#5</text><text transform="translate(219.47 237.0) rotate(-45)">#30</text><text transform="translate(226.69 237.0) rotate(-45)">#32</text><text transform="translate(233.91 237.0) rotate(-45)">#38</text><text transform="translate(241.12 237.0) rotate(-45)">#21</text><text transform="translate(248.33 237.0) rotate(-45)">#2</text><text transform="translate(255.55 237.0) rotate(-45)">#4</text><text transform="translate(262.76 237.0) rotate(-45)">#19</text><text transform="translate(269.98 237.0) rotate(-45)">#40</text></g>
<rect x="277.4" y="251" width="5.2" height="111.5" fill="#f2f2f2"/>
<g font-size="3.9" fill="#222" text-anchor="middle"><text x="280" y="254.66">7</text><text x="280" y="259.99">4</text><text x="280" y="265.32">3</text><text x="280" y="270.65">2</text><text x="280" y="275.98">5</text><text x="280" y="281.31">1</text><text x="280" y="286.64">1</text><text x="280" y="291.97">3</text><text x="280" y="297.30">2</text><text x="280" y="302.63">2</text><text x="280" y="307.96">1</text><text x="280" y="313.29">1</text><text x="280" y="318.62">2</text><text x="280" y="323.95">1</text><text x="280" y="329.28">1</text><text x="280" y="334.61">1</text><text x="280" y="339.94">4</text><text x="280" y="345.27">5</text><text x="280" y="350.60">1</text><text x="280" y="355.93">1</text><text x="280" y="361.26">1</text></g>
<text transform="translate(281.4 248) rotate(-90)" font-size="4.7" fill="#222">total patients</text>
<rect x="291.5" y="251.06" width="2" height="20.92" fill="#7d2a68"/>
<text x="297.2" y="263.22" font-size="4.7" fill="#222">Epigenetic</text>
<rect x="291.5" y="272.38" width="2" height="15.59" fill="#7cc4ec"/>
<text x="297.2" y="281.87" font-size="4.7" fill="#222">Splice</text>
<rect x="291.5" y="288.37" width="2" height="26.25" fill="#f0c15a"/>
<text x="297.2" y="303.19" font-size="4.7" fill="#222">Signaling</text>
<rect x="291.5" y="315.02" width="2" height="20.92" fill="#4e9b98"/>
<text x="297.2" y="327.18" font-size="4.7" fill="#222">Transcription</text>
<rect x="291.5" y="336.34" width="2" height="26.25" fill="#df822d"/>
<text x="297.2" y="351.16" font-size="4.7" fill="#222">Others</text>
<g font-size="3.55" fill="#333"><text x="43.8" y="396.5">Karyotype</text><g text-anchor="end"><text x="85.8" y="396.5">Normal</text><text x="85.8" y="404.6">One abnormality</text><text x="85.8" y="412.4">Complex</text><text x="143.3" y="396.5">Blast count in BM (%) ≤5</text><text x="143.3" y="404.6">5-20</text><text x="143.3" y="412.4">&gt;20</text><text x="194.2" y="396.5">High Risk MDS/AML Yes</text><text x="194.2" y="404.6">No</text></g><text x="210.2" y="396.5">No data</text></g>
<rect x="88.7" y="393.1" width="6.4" height="4.4" fill="#cbc4e0"/><rect x="88.7" y="401.3" width="6.4" height="4.4" fill="#6b50a1"/><rect x="88.7" y="409.0" width="6.4" height="4.4" fill="#241b40"/><rect x="146.7" y="393.1" width="6.4" height="4.4" fill="#9dc74b"/><rect x="146.7" y="401.3" width="6.4" height="4.4" fill="#52a34d"/><rect x="146.7" y="409.0" width="6.4" height="4.4" fill="#2f6a21"/><rect x="197.3" y="393.1" width="6.4" height="4.4" fill="#4e7f99"/><rect x="197.3" y="401.3" width="6.4" height="4.4" fill="#bfdce9"/><rect x="226.2" y="393.1" width="6.4" height="4.4" fill="#c3c3c3"/><polygon points="367.2,263.3 370.6,267 373.4,269.9 377.2,273.2 381,275.6 384.9,277.5 389.1,279.4 393.4,282.3 398.2,284.7 402,286.6 405.6,287.8 412.1,291 419.3,293.4 436.3,293.4 436.3,295.8 438.4,295.8 438.4,298.8 443.6,298.8 443.6,320.7 438.6,320.7 438.6,314.8 436.8,314.8 436.8,309.4 434.4,309.4 434.4,305.3 416.9,305.3 410.9,300.5 405.6,298.3 402,297 398.2,295.1 393.4,291.8 388.7,288.5 383.9,285.1 379.1,281.8 375.3,278 371.5,273.2 368.7,268.5 367.2,263.3" fill="#c3c8e5"/>
<path d="M389.6 264.3H412V266.6H488.2V272.3H502.1V323.4H488.2V304.2H412V296.8H389.6Z" fill="#e9c7bb" stroke="#daa292" stroke-width="0.45"/>
<rect x="502.1" y="282" width="1.2" height="50" fill="#f0d4cb"/>
<polyline points="367.2,263.3 370.6,267 373.4,269.9 377.2,273.2 381,275.6 384.9,277.5 389.1,279.4 393.4,282.3 398.2,284.7 402,286.6 405.6,287.8 412.1,291 419.3,293.4 436.3,293.4 436.3,295.8 438.4,295.8 438.4,298.8 443.6,298.8" fill="none" stroke="#6d7fbd" stroke-width="0.55"/>
<polyline points="367.2,263.3 368.7,268.5 371.5,273.2 375.3,278 379.1,281.8 383.9,285.1 388.7,288.5 393.4,291.8 398.2,295.1 402,297 405.6,298.3 410.9,300.5 416.9,305.3 434.4,305.3 434.4,309.4 436.8,309.4 436.8,314.8 438.6,314.8 438.6,320.7 443.6,320.7" fill="none" stroke="#6d7fbd" stroke-width="0.55"/>
<polyline points="367.2,263.3 369.1,267 371.5,270.4 374.4,273.7 377.2,276.1 381,279.4 384.9,281.3 389.1,283.2 392.5,285.1 396.3,287 400.1,289.9 404.2,292.4 409.9,295.4 415.6,297.7 418.1,299.3 435.2,299.3 435.2,301.7 437.4,301.7 437.4,305.9 439.2,305.9 439.2,309.4 443.6,309.4" fill="none" stroke="#1c2240" stroke-width="0.95"/>
<path d="M386 281.3V283.09999999999997M395 285.5V287.29999999999995M401 289.5V291.29999999999995M406 292.6V294.4M412 295.40000000000003V297.2M420 298.40000000000003V300.2M423 298.40000000000003V300.2M426 298.40000000000003V300.2M429 298.40000000000003V300.2M431.5 298.40000000000003V300.2M441 308.5V310.29999999999995M443 308.5V310.29999999999995" stroke="#1c2240" stroke-width="0.5"/>
<path d="M366.8 263.1H389.6V269.3H412V276.3H488.2V291.5H502.1V306.4" fill="none" stroke="#c93a5a" stroke-width="0.9"/>
<path d="M371 262.20000000000005V263.3M375 262.20000000000005V263.3M380 262.20000000000005V263.3M384 262.20000000000005V263.3M386 262.20000000000005V263.3M394 268.40000000000003V269.5M396 268.40000000000003V269.5M442.6 275.40000000000003V276.5M460.9 275.40000000000003V276.5M474.2 275.40000000000003V276.5" stroke="#c93a5a" stroke-width="0.5"/>
<path d="M364.4 259.8V339.4M364.1 339.3H509" stroke="#111" stroke-width="1.15" fill="none"/>
<path d="M362 263.1H364.4M362 281.4H364.4M362 299.4H364.4M362 317.7H364.4M362 336H364.4" stroke="#111" stroke-width="0.8"/>
<path d="M366.6 339.3V341.6M401.8 339.3V341.6M437 339.3V341.6M472 339.3V341.6M507.3 339.3V341.6" stroke="#111" stroke-width="0.8"/>
<g font-size="4.5" fill="#333" text-anchor="end">
<text x="358.6" y="264.70000000000005">1</text>
<text x="358.6" y="283.0">.75</text>
<text x="358.6" y="301.0">.5</text>
<text x="358.6" y="319.3">.25</text>
<text x="358.6" y="337.6">0</text>
</g><g font-size="4.5" fill="#333" text-anchor="middle">
<text x="366.6" y="349.3">0</text>
<text x="401.8" y="349.3">500</text>
<text x="437" y="349.3">1000</text>
<text x="472" y="349.3">1500</text>
<text x="507.3" y="349.3">2000</text>
</g>
<text transform="translate(437 359.4) scale(0.82 1)" font-size="6.4" fill="#222" text-anchor="middle">Time (days)</text>
<text transform="translate(345.8 298.7) rotate(-90) scale(0.82 1)" font-size="6.3" fill="#222" text-anchor="middle">Overall survival</text>
<rect x="371.1" y="363.4" width="15.8" height="5.1" fill="#c3c8e3"/>
<path d="M371.1 373.1H386.9" stroke="#6a7db2" stroke-width="0.8"/>
<rect x="441.2" y="363.4" width="15.6" height="5.1" fill="#eac6bb"/>
<path d="M441.2 373.4H456.8" stroke="#c8405c" stroke-width="0.8"/>
<g font-size="4.6" fill="#333">
<text x="390" y="367.5">95% CI</text><text x="390" y="375">DDX41 = "wildtype"</text>
<text x="459.8" y="367.5">95% CI</text><text x="459.8" y="375.2">DDX41 = "mutated"</text>
</g>
<g font-weight="bold" font-size="12.5" fill="#000">
<text x="7.3" y="17.1">A</text>
<text x="164.6" y="16.9">B</text>
<text x="7.3" y="218">C</text>
<text x="339.5" y="217.6">D</text>
</g>
<rect x="0.5" y="0.5" width="519" height="419.8" fill="none" stroke="#000" stroke-width="1"/>
<rect x="0" y="420" width="520" height="1" fill="#000"/>
</svg>
</body></html>
